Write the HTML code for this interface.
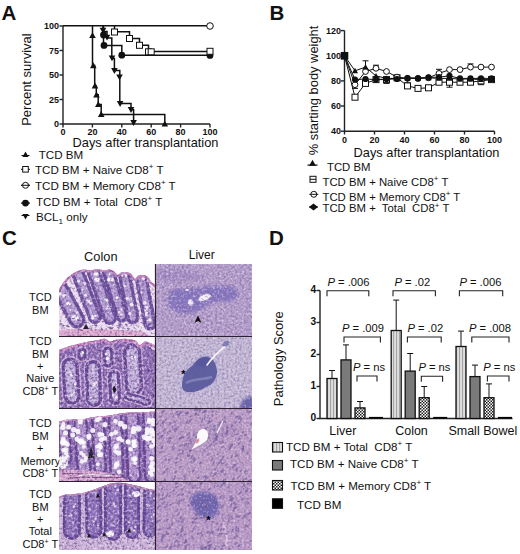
<!DOCTYPE html>
<html><head><meta charset="utf-8"><style>
html,body{margin:0;padding:0;background:#fff;}
svg{display:block;font-family:"Liberation Sans", sans-serif;}
</style></head><body>
<svg width="520" height="554" viewBox="0 0 520 554" fill="#111">
<defs>
<pattern id="pl" width="3" height="10" patternUnits="userSpaceOnUse"><rect width="3" height="10" fill="#dedede"/><rect width="1.1" height="10" fill="#a4a4a4"/></pattern>
<pattern id="pc" width="3" height="3" patternUnits="userSpaceOnUse"><rect width="3" height="3" fill="#fff"/><rect width="1.5" height="1.5" fill="#222"/><rect x="1.5" y="1.5" width="1.5" height="1.5" fill="#222"/></pattern>
<clipPath id="cc0"><rect x="59" y="264" width="96.5" height="72.5"/></clipPath>
<clipPath id="cl0"><rect x="155.5" y="264" width="96.5" height="72.5"/></clipPath>
<clipPath id="cc1"><rect x="59" y="336.5" width="96.5" height="72.0"/></clipPath>
<clipPath id="cl1"><rect x="155.5" y="336.5" width="96.5" height="72.0"/></clipPath>
<clipPath id="cc2"><rect x="59" y="408.5" width="96.5" height="73.0"/></clipPath>
<clipPath id="cl2"><rect x="155.5" y="408.5" width="96.5" height="73.0"/></clipPath>
<clipPath id="cc3"><rect x="59" y="481.5" width="96.5" height="68.5"/></clipPath>
<clipPath id="cl3"><rect x="155.5" y="481.5" width="96.5" height="68.5"/></clipPath>
<filter id="bl1" x="-20%" y="-20%" width="140%" height="140%"><feGaussianBlur stdDeviation="0.7"/></filter>
<filter id="bl2" x="-20%" y="-20%" width="140%" height="140%"><feGaussianBlur stdDeviation="1.6"/></filter>
<filter id="bl3" x="-30%" y="-30%" width="160%" height="160%"><feGaussianBlur stdDeviation="2.5"/></filter>
<clipPath id="ct0"><path d="M57.0,292.0 C57.3,291.6 58.2,290.7 59.0,289.5 C59.8,288.3 60.8,286.4 62.0,284.7 C63.2,282.9 64.7,280.5 66.0,279.0 C67.3,277.5 68.5,276.8 70.0,275.7 C71.5,274.6 73.3,273.2 75.0,272.3 C76.7,271.4 78.3,270.7 80.0,270.2 C81.7,269.7 83.3,269.4 85.0,269.5 C86.7,269.6 88.3,270.5 90.0,270.5 C91.7,270.5 93.3,269.7 95.0,269.5 C96.7,269.3 98.3,269.4 100.0,269.5 C101.7,269.6 103.3,270.2 105.0,270.2 C106.7,270.2 108.3,269.1 110.0,269.5 C111.7,269.9 113.7,271.4 115.0,272.3 C116.3,273.2 116.8,275.0 118.0,275.0 C119.2,275.0 120.0,272.6 122.0,272.3 C124.0,272.0 127.8,272.0 130.0,273.0 C132.2,274.0 133.7,278.1 135.0,278.5 C136.3,278.9 136.7,276.3 138.0,275.7 C139.3,275.1 141.3,274.8 143.0,275.0 C144.7,275.2 146.5,275.7 148.0,277.0 C149.5,278.3 150.5,281.1 152.0,282.6 C153.5,284.1 156.2,285.4 157.0,286.0 L157,338.5 L57,338.5 Z"/></clipPath>
<filter id="ndc0" x="0" y="0" width="100%" height="100%" color-interpolation-filters="sRGB">
<feTurbulence type="fractalNoise" baseFrequency="0.4" numOctaves="3" seed="3"/>
<feColorMatrix type="matrix" values="0 0 0 0 0.314 0 0 0 0 0.196 0 0 0 0 0.490 1.7 0 0 0 -0.850"/><feGaussianBlur stdDeviation="0.45"/>
</filter>
<filter id="nlc0" x="0" y="0" width="100%" height="100%" color-interpolation-filters="sRGB">
<feTurbulence type="fractalNoise" baseFrequency="0.4" numOctaves="3" seed="3"/>
<feColorMatrix type="matrix" values="0 0 0 0 0.973 0 0 0 0 0.941 0 0 0 0 0.980 -1.7 0 0 0 0.782"/><feGaussianBlur stdDeviation="0.45"/>
</filter>
<clipPath id="ct1"><path d="M57.0,350.5 C57.3,350.4 56.8,350.6 59.0,349.8 C61.2,349.1 66.5,347.1 70.0,346.0 C73.5,344.9 76.7,344.1 80.0,343.4 C83.3,342.6 86.7,342.1 90.0,341.5 C93.3,340.9 97.5,340.1 100.0,339.7 C102.5,339.2 103.3,338.5 105.0,338.8 C106.7,339.1 108.3,341.3 110.0,341.5 C111.7,341.7 112.5,340.4 115.0,340.0 C117.5,339.6 121.7,338.7 125.0,338.8 C128.3,338.9 132.5,339.6 135.0,340.6 C137.5,341.6 138.3,344.9 140.0,345.0 C141.7,345.1 143.3,341.8 145.0,341.5 C146.7,341.2 148.0,342.2 150.0,343.0 C152.0,343.8 155.8,345.5 157.0,346.0 L157,410.5 L57,410.5 Z"/></clipPath>
<filter id="ndc1" x="0" y="0" width="100%" height="100%" color-interpolation-filters="sRGB">
<feTurbulence type="fractalNoise" baseFrequency="0.4" numOctaves="3" seed="10"/>
<feColorMatrix type="matrix" values="0 0 0 0 0.314 0 0 0 0 0.196 0 0 0 0 0.490 2.2 0 0 0 -1.100"/><feGaussianBlur stdDeviation="0.45"/>
</filter>
<filter id="nlc1" x="0" y="0" width="100%" height="100%" color-interpolation-filters="sRGB">
<feTurbulence type="fractalNoise" baseFrequency="0.4" numOctaves="3" seed="10"/>
<feColorMatrix type="matrix" values="0 0 0 0 0.973 0 0 0 0 0.941 0 0 0 0 0.980 -2.2 0 0 0 1.012"/><feGaussianBlur stdDeviation="0.45"/>
</filter>
<clipPath id="ct2"><path d="M57.0,422.0 C57.3,422.0 57.7,422.1 59.0,421.8 C60.3,421.5 62.3,420.4 65.0,420.0 C67.7,419.6 71.7,419.6 75.0,419.4 C78.3,419.2 82.5,419.3 85.0,419.0 C87.5,418.7 87.5,418.1 90.0,417.6 C92.5,417.2 96.7,416.7 100.0,416.3 C103.3,415.9 106.7,415.9 110.0,415.4 C113.3,414.9 116.7,414.0 120.0,413.5 C123.3,413.0 126.7,412.9 130.0,412.6 C133.3,412.4 135.5,412.1 140.0,412.0 C144.5,411.9 154.2,411.8 157.0,411.7 L157,483.5 L57,483.5 Z"/></clipPath>
<filter id="ndc2" x="0" y="0" width="100%" height="100%" color-interpolation-filters="sRGB">
<feTurbulence type="fractalNoise" baseFrequency="0.4" numOctaves="3" seed="17"/>
<feColorMatrix type="matrix" values="0 0 0 0 0.314 0 0 0 0 0.196 0 0 0 0 0.490 2.0 0 0 0 -1.000"/><feGaussianBlur stdDeviation="0.45"/>
</filter>
<filter id="nlc2" x="0" y="0" width="100%" height="100%" color-interpolation-filters="sRGB">
<feTurbulence type="fractalNoise" baseFrequency="0.4" numOctaves="3" seed="17"/>
<feColorMatrix type="matrix" values="0 0 0 0 0.973 0 0 0 0 0.941 0 0 0 0 0.980 -2.0 0 0 0 0.920"/><feGaussianBlur stdDeviation="0.45"/>
</filter>
<clipPath id="ct3"><path d="M57.0,497.0 C57.3,496.9 57.7,497.1 59.0,496.7 C60.3,496.3 62.3,495.2 65.0,494.8 C67.7,494.4 71.7,494.4 75.0,494.0 C78.3,493.6 81.7,493.2 85.0,492.4 C88.3,491.6 91.7,490.4 95.0,489.3 C98.3,488.2 102.5,486.5 105.0,485.6 C107.5,484.7 107.5,484.3 110.0,483.8 C112.5,483.3 116.7,482.7 120.0,482.8 C123.3,482.9 126.7,483.7 130.0,484.3 C133.3,484.9 136.7,485.7 140.0,486.5 C143.3,487.3 147.2,488.7 150.0,489.3 C152.8,489.9 155.8,489.9 157.0,490.0 L157,552 L57,552 Z"/></clipPath>
<filter id="ndc3" x="0" y="0" width="100%" height="100%" color-interpolation-filters="sRGB">
<feTurbulence type="fractalNoise" baseFrequency="0.4" numOctaves="3" seed="24"/>
<feColorMatrix type="matrix" values="0 0 0 0 0.314 0 0 0 0 0.196 0 0 0 0 0.490 2.0 0 0 0 -1.000"/><feGaussianBlur stdDeviation="0.45"/>
</filter>
<filter id="nlc3" x="0" y="0" width="100%" height="100%" color-interpolation-filters="sRGB">
<feTurbulence type="fractalNoise" baseFrequency="0.4" numOctaves="3" seed="24"/>
<feColorMatrix type="matrix" values="0 0 0 0 0.973 0 0 0 0 0.941 0 0 0 0 0.980 -2.0 0 0 0 0.920"/><feGaussianBlur stdDeviation="0.45"/>
</filter>
<filter id="ndl0" x="0" y="0" width="100%" height="100%" color-interpolation-filters="sRGB">
<feTurbulence type="fractalNoise" baseFrequency="0.45" numOctaves="2" seed="31"/>
<feColorMatrix type="matrix" values="0 0 0 0 0.478 0 0 0 0 0.361 0 0 0 0 0.620 1.9 0 0 0 -0.950"/><feGaussianBlur stdDeviation="0.5"/>
</filter>
<filter id="nll0" x="0" y="0" width="100%" height="100%" color-interpolation-filters="sRGB">
<feTurbulence type="fractalNoise" baseFrequency="0.45" numOctaves="2" seed="31"/>
<feColorMatrix type="matrix" values="0 0 0 0 0.961 0 0 0 0 0.922 0 0 0 0 0.973 -1.9 0 0 0 0.874"/><feGaussianBlur stdDeviation="0.5"/>
</filter>
<filter id="ndl1" x="0" y="0" width="100%" height="100%" color-interpolation-filters="sRGB">
<feTurbulence type="fractalNoise" baseFrequency="0.45" numOctaves="2" seed="36"/>
<feColorMatrix type="matrix" values="0 0 0 0 0.478 0 0 0 0 0.361 0 0 0 0 0.620 1.7 0 0 0 -0.850"/><feGaussianBlur stdDeviation="0.5"/>
</filter>
<filter id="nll1" x="0" y="0" width="100%" height="100%" color-interpolation-filters="sRGB">
<feTurbulence type="fractalNoise" baseFrequency="0.45" numOctaves="2" seed="36"/>
<feColorMatrix type="matrix" values="0 0 0 0 0.961 0 0 0 0 0.922 0 0 0 0 0.973 -1.7 0 0 0 0.782"/><feGaussianBlur stdDeviation="0.5"/>
</filter>
<filter id="ndl2" x="0" y="0" width="100%" height="100%" color-interpolation-filters="sRGB">
<feTurbulence type="fractalNoise" baseFrequency="0.45" numOctaves="2" seed="41"/>
<feColorMatrix type="matrix" values="0 0 0 0 0.478 0 0 0 0 0.361 0 0 0 0 0.620 1.5 0 0 0 -0.750"/><feGaussianBlur stdDeviation="0.5"/>
</filter>
<filter id="nll2" x="0" y="0" width="100%" height="100%" color-interpolation-filters="sRGB">
<feTurbulence type="fractalNoise" baseFrequency="0.45" numOctaves="2" seed="41"/>
<feColorMatrix type="matrix" values="0 0 0 0 0.961 0 0 0 0 0.922 0 0 0 0 0.973 -1.5 0 0 0 0.690"/><feGaussianBlur stdDeviation="0.5"/>
</filter>
<filter id="ndl3" x="0" y="0" width="100%" height="100%" color-interpolation-filters="sRGB">
<feTurbulence type="fractalNoise" baseFrequency="0.45" numOctaves="2" seed="46"/>
<feColorMatrix type="matrix" values="0 0 0 0 0.478 0 0 0 0 0.361 0 0 0 0 0.620 1.5 0 0 0 -0.750"/><feGaussianBlur stdDeviation="0.5"/>
</filter>
<filter id="nll3" x="0" y="0" width="100%" height="100%" color-interpolation-filters="sRGB">
<feTurbulence type="fractalNoise" baseFrequency="0.45" numOctaves="2" seed="46"/>
<feColorMatrix type="matrix" values="0 0 0 0 0.961 0 0 0 0 0.922 0 0 0 0 0.973 -1.5 0 0 0 0.690"/><feGaussianBlur stdDeviation="0.5"/>
</filter></defs>
<text x="1.5" y="19.8" font-size="20.5" font-weight="bold">A</text>
<text x="269.5" y="19.6" font-size="20.5" font-weight="bold">B</text>
<text x="2" y="245" font-size="20.5" font-weight="bold">C</text>
<text x="269" y="245" font-size="20.5" font-weight="bold">D</text>
<g stroke="#222" stroke-width="1.4" fill="none">
<path d="M63,26.0 V124 H210"/>
<path d="M59.5,124.0 H63"/>
<path d="M59.5,99.5 H63"/>
<path d="M59.5,75.0 H63"/>
<path d="M59.5,50.5 H63"/>
<path d="M59.5,26.0 H63"/>
<path d="M63.0,124 V127.5"/>
<path d="M92.4,124 V127.5"/>
<path d="M121.8,124 V127.5"/>
<path d="M151.2,124 V127.5"/>
<path d="M180.6,124 V127.5"/>
<path d="M210.0,124 V127.5"/>
</g>
<text x="59" y="127.2" font-size="9" font-weight="bold" text-anchor="end">0</text>
<text x="59" y="102.7" font-size="9" font-weight="bold" text-anchor="end">25</text>
<text x="59" y="78.2" font-size="9" font-weight="bold" text-anchor="end">50</text>
<text x="59" y="53.7" font-size="9" font-weight="bold" text-anchor="end">75</text>
<text x="59" y="29.2" font-size="9" font-weight="bold" text-anchor="end">100</text>
<text x="63.0" y="135.3" font-size="9" font-weight="bold" text-anchor="middle">0</text>
<text x="92.4" y="135.3" font-size="9" font-weight="bold" text-anchor="middle">20</text>
<text x="121.8" y="135.3" font-size="9" font-weight="bold" text-anchor="middle">40</text>
<text x="151.2" y="135.3" font-size="9" font-weight="bold" text-anchor="middle">60</text>
<text x="180.6" y="135.3" font-size="9" font-weight="bold" text-anchor="middle">80</text>
<text x="210.0" y="135.3" font-size="9" font-weight="bold" text-anchor="middle">100</text>
<text x="72.6" y="147.4" font-size="12.8">Days after transplantation</text>
<text transform="translate(30.7,79.6) rotate(-90)" font-size="13" text-anchor="middle">Percent survival</text>
<g stroke="#111" stroke-width="1.5" fill="none">
<path d="M63,25.8 H210"/>
<path d="M92.5,25.8 V65.6 H94.7 V85.9 H96.3 V94.8 H98.2 V104.5 H101.2 V114.4 H164.8 V124"/>
<path d="M103.5,25.8 V45.4 H121.8 V55.2 H210"/>
<path d="M103,25.8 V31.5 H107 V38 H111.8 V58.6 H114.4 V70.6 H119.8 V103.6 H131 V109.7 H133.6 V124"/>
<path d="M114.5,25.8 V31.8 H129.5 V38.5 H139.5 V45.3 H148.5 V51.5 H210"/>
</g>
<path d="M92.5,32.2 L95.8,38.1 L89.2,38.1Z" fill="#111"/>
<path d="M93.3,62.3 L96.6,68.2 L90.0,68.2Z" fill="#111"/>
<path d="M95.0,82.6 L98.3,88.5 L91.7,88.5Z" fill="#111"/>
<path d="M96.5,91.5 L99.8,97.4 L93.2,97.4Z" fill="#111"/>
<path d="M98.3,101.2 L101.6,107.1 L95.0,107.1Z" fill="#111"/>
<path d="M101.2,111.1 L104.5,117.0 L97.9,117.0Z" fill="#111"/>
<path d="M164.8,120.7 L168.1,126.6 L161.5,126.6Z" fill="#111"/>
<path d="M103.0,33.7 L106.3,27.8 L99.7,27.8Z" fill="#111"/>
<path d="M107.0,40.6 L110.3,34.7 L103.7,34.7Z" fill="#111"/>
<path d="M112.0,61.3 L115.3,55.4 L108.7,55.4Z" fill="#111"/>
<path d="M114.4,73.9 L117.7,68.0 L111.1,68.0Z" fill="#111"/>
<path d="M119.5,80.3 L122.8,74.4 L116.2,74.4Z" fill="#111"/>
<path d="M120.1,106.9 L123.4,101.0 L116.8,101.0Z" fill="#111"/>
<path d="M131.0,113.0 L134.3,107.1 L127.7,107.1Z" fill="#111"/>
<path d="M133.6,126.0 L136.9,120.1 L130.3,120.1Z" fill="#111"/>
<circle cx="103.5" cy="35.0" r="3.4" fill="#111"/>
<circle cx="104.0" cy="45.4" r="3.4" fill="#111"/>
<circle cx="121.8" cy="55.2" r="3.4" fill="#111"/>
<circle cx="210.0" cy="55.4" r="3.4" fill="#111"/>
<rect x="111.5" y="29.0" width="6.0" height="6.0" fill="#fff" stroke="#111" stroke-width="1"/>
<rect x="126.5" y="35.5" width="6.0" height="6.0" fill="#fff" stroke="#111" stroke-width="1"/>
<rect x="136.5" y="42.3" width="6.0" height="6.0" fill="#fff" stroke="#111" stroke-width="1"/>
<rect x="145.5" y="48.8" width="6.0" height="6.0" fill="#fff" stroke="#111" stroke-width="1"/>
<rect x="148.2" y="48.8" width="6.0" height="6.0" fill="#fff" stroke="#111" stroke-width="1"/>
<rect x="207.0" y="48.3" width="6.0" height="6.0" fill="#fff" stroke="#111" stroke-width="1"/>
<circle cx="210.0" cy="26.0" r="3.3" fill="#fff" stroke="#111" stroke-width="1"/>
<text x="38.7" y="159" font-size="11.6" xml:space="preserve">TCD BM</text>
<path d="M25.5,151.5 L28.5,156.9 L22.5,156.9Z" fill="#111"/>
<path d="M21.5,155.5 H29.5" stroke="#111" stroke-width="1"/>
<text x="35" y="173.8" font-size="11.6" xml:space="preserve">TCD BM + Naive CD8<tspan font-size="8" dy="-4.5">+</tspan><tspan dy="4.5"> T</tspan></text>
<path d="M21.0,169.3 H30.0" stroke="#111" stroke-width="1"/>
<rect x="22.7" y="166.5" width="5.6" height="5.6" fill="#fff" stroke="#111" stroke-width="1"/>
<text x="35" y="189.8" font-size="11.6" xml:space="preserve">TCD BM + Memory CD8<tspan font-size="8" dy="-4.5">+</tspan><tspan dy="4.5"> T</tspan></text>
<path d="M21.0,185.3 H30.0" stroke="#111" stroke-width="1"/>
<circle cx="25.5" cy="185.3" r="3" fill="#fff" stroke="#111" stroke-width="1"/>
<path d="M21.0,185.3 H30.0" stroke="#111" stroke-width="1"/>
<text x="36" y="205.6" font-size="11.6" xml:space="preserve">TCD BM + Total  CD8<tspan font-size="8" dy="-4.5">+</tspan><tspan dy="4.5"> T</tspan></text>
<path d="M21.0,203.1 H30.0" stroke="#111" stroke-width="1.2"/>
<circle cx="25.5" cy="203.1" r="3.4" fill="#111"/>
<text x="36" y="221" font-size="11.6" xml:space="preserve">BCL<tspan font-size="8" dy="3">1</tspan><tspan dy="-3"> only</tspan></text>
<path d="M25.5,219.5 L28.5,214.1 L22.5,214.1Z" fill="#111"/>
<path d="M21.5,215.5 H29.5" stroke="#111" stroke-width="1"/>
<g stroke="#222" stroke-width="1.4" fill="none">
<path d="M344.5,30.6 V131.2 H494.5"/>
<path d="M341,131.2 H344.5"/>
<path d="M341,106.0 H344.5"/>
<path d="M341,80.9 H344.5"/>
<path d="M341,55.7 H344.5"/>
<path d="M341,30.6 H344.5"/>
<path d="M344.5,131.2 V134.5"/>
<path d="M374.5,131.2 V134.5"/>
<path d="M404.5,131.2 V134.5"/>
<path d="M434.5,131.2 V134.5"/>
<path d="M464.5,131.2 V134.5"/>
<path d="M494.5,131.2 V134.5"/>
</g>
<text x="341" y="134.4" font-size="9" font-weight="bold" text-anchor="end">40</text>
<text x="341" y="109.2" font-size="9" font-weight="bold" text-anchor="end">60</text>
<text x="341" y="84.1" font-size="9" font-weight="bold" text-anchor="end">80</text>
<text x="341" y="58.9" font-size="9" font-weight="bold" text-anchor="end">100</text>
<text x="341" y="33.8" font-size="9" font-weight="bold" text-anchor="end">120</text>
<text x="344.5" y="142.5" font-size="9" font-weight="bold" text-anchor="middle">0</text>
<text x="374.5" y="142.5" font-size="9" font-weight="bold" text-anchor="middle">20</text>
<text x="404.5" y="142.5" font-size="9" font-weight="bold" text-anchor="middle">40</text>
<text x="434.5" y="142.5" font-size="9" font-weight="bold" text-anchor="middle">60</text>
<text x="464.5" y="142.5" font-size="9" font-weight="bold" text-anchor="middle">80</text>
<text x="494.5" y="142.5" font-size="9" font-weight="bold" text-anchor="middle">100</text>
<text x="353.6" y="156.8" font-size="12.8">Days after transplantation</text>
<text transform="translate(318.4,90.5) rotate(-90)" font-size="12.9" text-anchor="middle">% starting body weight</text>
<g stroke="#111" stroke-width="1" fill="none">
<path d="M365.5,67.1 V60.8 M362.5,60.8 H368.5"/>
<path d="M386.5,79.0 V83.4 M383.5,83.4 H389.5"/>
<path d="M439.0,73.4 V69.3 M436.0,69.3 H442.0"/>
<path d="M449.5,82.2 V87.2 M446.5,87.2 H452.5"/>
<path d="M481.0,80.9 V84.7 M478.0,84.7 H484.0"/>
<path d="M407.5,79.6 V82.8 M404.5,82.8 H410.5"/>
<path d="M355.0,84.7 V88.4 M352.0,88.4 H358.0"/>
<path d="M470.5,67.1 V63.9 M467.5,63.9 H473.5"/>
<path d="M376.0,68.3 V65.2 M373.0,65.2 H379.0"/>
<polyline points="344.5,55.7 355.0,70.8 365.5,67.1 376.0,75.9 386.5,78.4 397.0,78.4 407.5,78.0 418.0,78.0 428.5,77.8 439.0,78.4 449.5,78.4 460.0,79.0 470.5,79.0 481.0,79.6 491.5,79.6"/>
<polyline points="344.5,55.7 355.0,97.2 365.5,83.4 376.0,79.6 386.5,79.6 397.0,77.8 407.5,85.9 418.0,88.4 428.5,87.8 439.0,82.2 449.5,82.2 460.0,82.2 470.5,82.2 481.0,80.9 491.5,79.6"/>
<polyline points="344.5,55.7 355.0,84.7 365.5,71.5 376.0,68.3 386.5,71.5 397.0,77.1 407.5,78.4 418.0,78.4 428.5,77.8 439.0,73.4 449.5,69.6 460.0,69.6 470.5,67.1 481.0,67.1 491.5,67.1"/>
<polyline points="344.5,55.7 355.0,79.6 365.5,79.0 376.0,79.6 386.5,79.0 397.0,79.0 407.5,78.0 418.0,78.4 428.5,77.4 439.0,77.1 449.5,75.9 460.0,78.4 470.5,78.4 481.0,78.4 491.5,78.4"/>
</g>
<rect x="341.5" y="52.7" width="6.0" height="6.0" fill="#fff" stroke="#111" stroke-width="1"/>
<rect x="352.0" y="94.2" width="6.0" height="6.0" fill="#fff" stroke="#111" stroke-width="1"/>
<rect x="362.5" y="80.4" width="6.0" height="6.0" fill="#fff" stroke="#111" stroke-width="1"/>
<rect x="373.0" y="76.6" width="6.0" height="6.0" fill="#fff" stroke="#111" stroke-width="1"/>
<rect x="383.5" y="76.6" width="6.0" height="6.0" fill="#fff" stroke="#111" stroke-width="1"/>
<rect x="394.0" y="74.8" width="6.0" height="6.0" fill="#fff" stroke="#111" stroke-width="1"/>
<rect x="404.5" y="82.9" width="6.0" height="6.0" fill="#fff" stroke="#111" stroke-width="1"/>
<rect x="415.0" y="85.4" width="6.0" height="6.0" fill="#fff" stroke="#111" stroke-width="1"/>
<rect x="425.5" y="84.8" width="6.0" height="6.0" fill="#fff" stroke="#111" stroke-width="1"/>
<rect x="436.0" y="79.2" width="6.0" height="6.0" fill="#fff" stroke="#111" stroke-width="1"/>
<rect x="446.5" y="79.2" width="6.0" height="6.0" fill="#fff" stroke="#111" stroke-width="1"/>
<rect x="457.0" y="79.2" width="6.0" height="6.0" fill="#fff" stroke="#111" stroke-width="1"/>
<rect x="467.5" y="79.2" width="6.0" height="6.0" fill="#fff" stroke="#111" stroke-width="1"/>
<rect x="478.0" y="77.9" width="6.0" height="6.0" fill="#fff" stroke="#111" stroke-width="1"/>
<rect x="488.5" y="76.6" width="6.0" height="6.0" fill="#fff" stroke="#111" stroke-width="1"/>
<circle cx="344.5" cy="55.7" r="2.9" fill="#fff" stroke="#111" stroke-width="1"/>
<circle cx="355.0" cy="84.7" r="2.9" fill="#fff" stroke="#111" stroke-width="1"/>
<circle cx="365.5" cy="71.5" r="2.9" fill="#fff" stroke="#111" stroke-width="1"/>
<circle cx="376.0" cy="68.3" r="2.9" fill="#fff" stroke="#111" stroke-width="1"/>
<circle cx="386.5" cy="71.5" r="2.9" fill="#fff" stroke="#111" stroke-width="1"/>
<circle cx="397.0" cy="77.1" r="2.9" fill="#fff" stroke="#111" stroke-width="1"/>
<circle cx="407.5" cy="78.4" r="2.9" fill="#fff" stroke="#111" stroke-width="1"/>
<circle cx="418.0" cy="78.4" r="2.9" fill="#fff" stroke="#111" stroke-width="1"/>
<circle cx="428.5" cy="77.8" r="2.9" fill="#fff" stroke="#111" stroke-width="1"/>
<circle cx="439.0" cy="73.4" r="2.9" fill="#fff" stroke="#111" stroke-width="1"/>
<circle cx="449.5" cy="69.6" r="2.9" fill="#fff" stroke="#111" stroke-width="1"/>
<circle cx="460.0" cy="69.6" r="2.9" fill="#fff" stroke="#111" stroke-width="1"/>
<circle cx="470.5" cy="67.1" r="2.9" fill="#fff" stroke="#111" stroke-width="1"/>
<circle cx="481.0" cy="67.1" r="2.9" fill="#fff" stroke="#111" stroke-width="1"/>
<circle cx="491.5" cy="67.1" r="2.9" fill="#fff" stroke="#111" stroke-width="1"/>
<circle cx="344.5" cy="55.7" r="3.1" fill="#111"/>
<circle cx="355.0" cy="79.6" r="3.1" fill="#111"/>
<circle cx="365.5" cy="79.0" r="3.1" fill="#111"/>
<circle cx="376.0" cy="79.6" r="3.1" fill="#111"/>
<circle cx="386.5" cy="79.0" r="3.1" fill="#111"/>
<circle cx="397.0" cy="79.0" r="3.1" fill="#111"/>
<circle cx="407.5" cy="78.0" r="3.1" fill="#111"/>
<circle cx="418.0" cy="78.4" r="3.1" fill="#111"/>
<circle cx="428.5" cy="77.4" r="3.1" fill="#111"/>
<circle cx="439.0" cy="77.1" r="3.1" fill="#111"/>
<circle cx="449.5" cy="75.9" r="3.1" fill="#111"/>
<circle cx="460.0" cy="78.4" r="3.1" fill="#111"/>
<circle cx="470.5" cy="78.4" r="3.1" fill="#111"/>
<circle cx="481.0" cy="78.4" r="3.1" fill="#111"/>
<circle cx="491.5" cy="78.4" r="3.1" fill="#111"/>
<path d="M344.5,52.7 L347.5,58.1 L341.5,58.1Z" fill="#111"/>
<path d="M355.0,67.8 L358.0,73.2 L352.0,73.2Z" fill="#111"/>
<path d="M365.5,64.1 L368.5,69.5 L362.5,69.5Z" fill="#111"/>
<path d="M376.0,72.9 L379.0,78.3 L373.0,78.3Z" fill="#111"/>
<path d="M386.5,75.4 L389.5,80.8 L383.5,80.8Z" fill="#111"/>
<path d="M397.0,75.4 L400.0,80.8 L394.0,80.8Z" fill="#111"/>
<path d="M407.5,75.0 L410.5,80.4 L404.5,80.4Z" fill="#111"/>
<path d="M418.0,75.0 L421.0,80.4 L415.0,80.4Z" fill="#111"/>
<path d="M428.5,74.8 L431.5,80.2 L425.5,80.2Z" fill="#111"/>
<path d="M439.0,75.4 L442.0,80.8 L436.0,80.8Z" fill="#111"/>
<path d="M449.5,75.4 L452.5,80.8 L446.5,80.8Z" fill="#111"/>
<path d="M460.0,76.0 L463.0,81.4 L457.0,81.4Z" fill="#111"/>
<path d="M470.5,76.0 L473.5,81.4 L467.5,81.4Z" fill="#111"/>
<path d="M481.0,76.6 L484.0,82.0 L478.0,82.0Z" fill="#111"/>
<path d="M491.5,76.6 L494.5,82.0 L488.5,82.0Z" fill="#111"/>
<rect x="340.7" y="51.94999999999999" width="7.6" height="7.6" fill="#111"/>
<text x="327" y="170.8" font-size="11.35" xml:space="preserve">TCD BM</text>
<path d="M312.5,159.7 L315.9,165.8 L309.1,165.8Z" fill="#111"/>
<path d="M307.5,165.10000000000002 H317.5" stroke="#111" stroke-width="1.2"/>
<text x="322.5" y="185.8" font-size="11.35" xml:space="preserve">TCD BM + Naive CD8<tspan font-size="8" dy="-4.5">+</tspan><tspan dy="4.5"> T</tspan></text>
<rect x="310.0" y="176.3" width="6.0" height="6.0" fill="#fff" stroke="#111" stroke-width="1"/>
<path d="M310,179.3 H316" stroke="#111" stroke-width="1"/>
<text x="322.5" y="200.8" font-size="11.35" xml:space="preserve">TCD BM + Memory CD8<tspan font-size="8" dy="-4.5">+</tspan><tspan dy="4.5"> T</tspan></text>
<circle cx="313.8" cy="194.3" r="3" fill="#fff" stroke="#111" stroke-width="1"/>
<path d="M309.3,194.3 H318.3" stroke="#111" stroke-width="1"/>
<text x="322.5" y="212" font-size="11.35" xml:space="preserve">TCD BM +  Total  CD8<tspan font-size="8" dy="-4.5">+</tspan><tspan dy="4.5"> T</tspan></text>
<path d="M309.0,207.0 H318.0" stroke="#111" stroke-width="1"/>
<path d="M309.0,207.0 L313.5,203.5 L318.0,207.0 L313.5,210.5Z" fill="#111"/>
<text x="100.8" y="261" font-size="12.8" text-anchor="middle">Colon</text>
<text x="201.8" y="258.8" font-size="12" text-anchor="middle">Liver</text>
<text x="40.3" y="301.2" font-size="11" text-anchor="middle">TCD</text>
<text x="40.3" y="313.6" font-size="11" text-anchor="middle">BM</text>
<text x="40.3" y="345.1" font-size="11" text-anchor="middle">TCD</text>
<text x="40.3" y="357.5" font-size="11" text-anchor="middle">BM</text>
<text x="40.3" y="369.9" font-size="11" text-anchor="middle">+</text>
<text x="40.3" y="382.3" font-size="11" text-anchor="middle">Naive</text>
<text x="40.3" y="394.7" font-size="11" text-anchor="middle">CD8<tspan font-size="7" dy="-4">+</tspan><tspan dy="4"> T</tspan></text>
<text x="40.3" y="427.4" font-size="11" text-anchor="middle">TCD</text>
<text x="40.3" y="439.8" font-size="11" text-anchor="middle">BM</text>
<text x="40.3" y="452.2" font-size="11" text-anchor="middle">+</text>
<text x="40.3" y="464.6" font-size="11" text-anchor="middle">Memory</text>
<text x="40.3" y="477.0" font-size="11" text-anchor="middle">CD8<tspan font-size="7" dy="-4">+</tspan><tspan dy="4"> T</tspan></text>
<text x="40.3" y="498.1" font-size="11" text-anchor="middle">TCD</text>
<text x="40.3" y="510.5" font-size="11" text-anchor="middle">BM</text>
<text x="40.3" y="522.9" font-size="11" text-anchor="middle">+</text>
<text x="40.3" y="535.3" font-size="11" text-anchor="middle">Total</text>
<text x="40.3" y="547.7" font-size="11" text-anchor="middle">CD8<tspan font-size="7" dy="-4">+</tspan><tspan dy="4"> T</tspan></text>
<g clip-path="url(#cc0)"><rect x="59" y="264" width="96.5" height="72.5" fill="#fdfcfe"/>
<g clip-path="url(#ct0)">
<rect x="59" y="264" width="96.5" height="72.5" fill="rgb(236,222,240)"/>
<g filter="url(#bl1)">
<rect x="59" y="316" width="96.5" height="22" fill="rgb(236,222,240)"/>
<path d="M57,330 C80,328 110,329 140,331 C146,332 150,336 152,340 L57,340Z" fill="rgb(220,168,206)"/>
<path d="M61.0,290.0 L77.0,320.0" stroke="rgb(112,82,158)" stroke-width="17" stroke-linecap="round"/>
<path d="M61.0,290.0 L77.0,320.0" stroke="rgb(178,154,208)" stroke-width="10.2" stroke-linecap="round"/>
<circle cx="67.8" cy="303.8" r="1.8" fill="#fbf8fd" opacity="0.85"/>
<circle cx="68.4" cy="304.0" r="1.5" fill="#fbf8fd" opacity="0.85"/>
<circle cx="63.9" cy="295.6" r="1.6" fill="#fbf8fd" opacity="0.85"/>
<circle cx="76.6" cy="312.2" r="1.3" fill="#fbf8fd" opacity="0.85"/>
<circle cx="60.2" cy="293.9" r="1.6" fill="#fbf8fd" opacity="0.85"/>
<circle cx="58.2" cy="293.1" r="1.9" fill="#fbf8fd" opacity="0.85"/>
<circle cx="70.6" cy="310.1" r="1.1" fill="#fbf8fd" opacity="0.85"/>
<circle cx="61.0" cy="290.6" r="1.1" fill="#fbf8fd" opacity="0.85"/>
<circle cx="65.9" cy="294.7" r="1.0" fill="#fbf8fd" opacity="0.85"/>
<circle cx="68.9" cy="303.7" r="1.8" fill="#fbf8fd" opacity="0.85"/>
<path d="M77.0,271.0 L95.0,317.0" stroke="rgb(112,82,158)" stroke-width="14" stroke-linecap="round"/>
<path d="M77.0,271.0 L95.0,317.0" stroke="rgb(178,154,208)" stroke-width="7.2" stroke-linecap="round"/>
<circle cx="85.6" cy="295.2" r="1.4" fill="#fbf8fd" opacity="0.85"/>
<circle cx="89.2" cy="301.4" r="1.3" fill="#fbf8fd" opacity="0.85"/>
<circle cx="92.3" cy="317.9" r="1.8" fill="#fbf8fd" opacity="0.85"/>
<circle cx="90.7" cy="303.2" r="1.2" fill="#fbf8fd" opacity="0.85"/>
<circle cx="84.5" cy="283.4" r="1.7" fill="#fbf8fd" opacity="0.85"/>
<circle cx="82.3" cy="290.1" r="1.3" fill="#fbf8fd" opacity="0.85"/>
<circle cx="92.4" cy="315.8" r="1.0" fill="#fbf8fd" opacity="0.85"/>
<circle cx="78.6" cy="281.5" r="1.4" fill="#fbf8fd" opacity="0.85"/>
<circle cx="95.2" cy="315.9" r="1.1" fill="#fbf8fd" opacity="0.85"/>
<circle cx="86.8" cy="300.5" r="1.2" fill="#fbf8fd" opacity="0.85"/>
<path d="M93.0,270.0 L110.0,318.0" stroke="rgb(112,82,158)" stroke-width="14" stroke-linecap="round"/>
<path d="M93.0,270.0 L110.0,318.0" stroke="rgb(178,154,208)" stroke-width="7.2" stroke-linecap="round"/>
<circle cx="95.4" cy="273.9" r="1.9" fill="#fbf8fd" opacity="0.85"/>
<circle cx="108.0" cy="305.7" r="1.2" fill="#fbf8fd" opacity="0.85"/>
<circle cx="97.1" cy="274.0" r="1.7" fill="#fbf8fd" opacity="0.85"/>
<circle cx="95.7" cy="278.6" r="1.4" fill="#fbf8fd" opacity="0.85"/>
<circle cx="95.0" cy="279.6" r="1.1" fill="#fbf8fd" opacity="0.85"/>
<circle cx="106.0" cy="300.2" r="1.4" fill="#fbf8fd" opacity="0.85"/>
<circle cx="97.9" cy="279.8" r="1.9" fill="#fbf8fd" opacity="0.85"/>
<circle cx="107.7" cy="308.2" r="1.8" fill="#fbf8fd" opacity="0.85"/>
<circle cx="97.2" cy="279.9" r="1.8" fill="#fbf8fd" opacity="0.85"/>
<circle cx="106.1" cy="300.0" r="1.9" fill="#fbf8fd" opacity="0.85"/>
<path d="M108.0,270.0 L122.0,316.0" stroke="rgb(112,82,158)" stroke-width="13" stroke-linecap="round"/>
<path d="M108.0,270.0 L122.0,316.0" stroke="rgb(178,154,208)" stroke-width="6.2" stroke-linecap="round"/>
<circle cx="112.1" cy="279.5" r="1.7" fill="#fbf8fd" opacity="0.85"/>
<circle cx="113.6" cy="284.8" r="1.1" fill="#fbf8fd" opacity="0.85"/>
<circle cx="108.9" cy="274.3" r="1.2" fill="#fbf8fd" opacity="0.85"/>
<circle cx="117.0" cy="297.5" r="1.4" fill="#fbf8fd" opacity="0.85"/>
<circle cx="121.5" cy="314.1" r="1.5" fill="#fbf8fd" opacity="0.85"/>
<circle cx="121.6" cy="309.4" r="1.1" fill="#fbf8fd" opacity="0.85"/>
<circle cx="119.2" cy="312.2" r="1.2" fill="#fbf8fd" opacity="0.85"/>
<circle cx="109.5" cy="279.1" r="1.8" fill="#fbf8fd" opacity="0.85"/>
<circle cx="108.6" cy="279.7" r="1.8" fill="#fbf8fd" opacity="0.85"/>
<circle cx="116.8" cy="297.6" r="1.1" fill="#fbf8fd" opacity="0.85"/>
<path d="M124.0,273.0 L133.0,318.0" stroke="rgb(112,82,158)" stroke-width="13" stroke-linecap="round"/>
<path d="M124.0,273.0 L133.0,318.0" stroke="rgb(178,154,208)" stroke-width="6.2" stroke-linecap="round"/>
<circle cx="122.1" cy="275.2" r="1.2" fill="#fbf8fd" opacity="0.85"/>
<circle cx="131.5" cy="304.5" r="1.7" fill="#fbf8fd" opacity="0.85"/>
<circle cx="130.4" cy="299.6" r="1.2" fill="#fbf8fd" opacity="0.85"/>
<circle cx="132.6" cy="305.0" r="1.2" fill="#fbf8fd" opacity="0.85"/>
<circle cx="127.3" cy="298.5" r="1.6" fill="#fbf8fd" opacity="0.85"/>
<circle cx="124.5" cy="286.0" r="1.2" fill="#fbf8fd" opacity="0.85"/>
<circle cx="125.3" cy="273.5" r="1.4" fill="#fbf8fd" opacity="0.85"/>
<circle cx="126.1" cy="275.4" r="1.3" fill="#fbf8fd" opacity="0.85"/>
<circle cx="130.9" cy="298.4" r="1.3" fill="#fbf8fd" opacity="0.85"/>
<circle cx="129.7" cy="313.6" r="1.6" fill="#fbf8fd" opacity="0.85"/>
<path d="M141.0,277.0 L150.0,324.0" stroke="rgb(112,82,158)" stroke-width="13" stroke-linecap="round"/>
<path d="M141.0,277.0 L150.0,324.0" stroke="rgb(178,154,208)" stroke-width="6.2" stroke-linecap="round"/>
<circle cx="146.8" cy="309.6" r="1.1" fill="#fbf8fd" opacity="0.85"/>
<circle cx="143.7" cy="278.2" r="1.8" fill="#fbf8fd" opacity="0.85"/>
<circle cx="145.1" cy="310.4" r="1.0" fill="#fbf8fd" opacity="0.85"/>
<circle cx="146.8" cy="306.9" r="1.7" fill="#fbf8fd" opacity="0.85"/>
<circle cx="141.4" cy="292.5" r="1.1" fill="#fbf8fd" opacity="0.85"/>
<circle cx="144.8" cy="302.9" r="1.8" fill="#fbf8fd" opacity="0.85"/>
<circle cx="146.6" cy="311.8" r="1.7" fill="#fbf8fd" opacity="0.85"/>
<circle cx="150.0" cy="319.9" r="1.6" fill="#fbf8fd" opacity="0.85"/>
<circle cx="147.3" cy="319.7" r="1.4" fill="#fbf8fd" opacity="0.85"/>
<circle cx="146.3" cy="314.5" r="1.5" fill="#fbf8fd" opacity="0.85"/>
<ellipse cx="75" cy="318" rx="4" ry="2.8" fill="#f4eef8"/>
<ellipse cx="119.4" cy="323.0" rx="1.7" ry="0.8" transform="rotate(7 119.4 323.0)" fill="rgb(110,80,150)" opacity="0.7"/>
<ellipse cx="67.6" cy="326.3" rx="2.2" ry="0.8" transform="rotate(23 67.6 326.3)" fill="rgb(110,80,150)" opacity="0.7"/>
<ellipse cx="129.2" cy="323.0" rx="1.9" ry="0.8" transform="rotate(5 129.2 323.0)" fill="rgb(110,80,150)" opacity="0.7"/>
<ellipse cx="101.8" cy="328.9" rx="1.1" ry="0.8" transform="rotate(15 101.8 328.9)" fill="rgb(110,80,150)" opacity="0.7"/>
<ellipse cx="62.8" cy="325.8" rx="1.6" ry="0.8" transform="rotate(-16 62.8 325.8)" fill="rgb(110,80,150)" opacity="0.7"/>
<ellipse cx="126.3" cy="324.5" rx="1.7" ry="0.8" transform="rotate(25 126.3 324.5)" fill="rgb(110,80,150)" opacity="0.7"/>
<ellipse cx="84.3" cy="318.1" rx="1.4" ry="0.8" transform="rotate(11 84.3 318.1)" fill="rgb(110,80,150)" opacity="0.7"/>
<ellipse cx="79.2" cy="320.2" rx="2.1" ry="0.8" transform="rotate(10 79.2 320.2)" fill="rgb(110,80,150)" opacity="0.7"/>
<ellipse cx="102.0" cy="329.6" rx="1.4" ry="0.8" transform="rotate(10 102.0 329.6)" fill="rgb(110,80,150)" opacity="0.7"/>
<ellipse cx="78.9" cy="323.6" rx="2.0" ry="0.8" transform="rotate(25 78.9 323.6)" fill="rgb(110,80,150)" opacity="0.7"/>
<ellipse cx="143.6" cy="323.0" rx="1.7" ry="0.8" transform="rotate(-11 143.6 323.0)" fill="rgb(110,80,150)" opacity="0.7"/>
<ellipse cx="72.9" cy="324.5" rx="2.0" ry="0.8" transform="rotate(21 72.9 324.5)" fill="rgb(110,80,150)" opacity="0.7"/>
<ellipse cx="127.6" cy="330.4" rx="1.3" ry="0.8" transform="rotate(-20 127.6 330.4)" fill="rgb(110,80,150)" opacity="0.7"/>
<ellipse cx="102.8" cy="321.6" rx="1.3" ry="0.8" transform="rotate(-5 102.8 321.6)" fill="rgb(110,80,150)" opacity="0.7"/>
<ellipse cx="119.4" cy="324.4" rx="1.4" ry="0.8" transform="rotate(20 119.4 324.4)" fill="rgb(110,80,150)" opacity="0.7"/>
<ellipse cx="153.3" cy="323.9" rx="1.1" ry="0.8" transform="rotate(-28 153.3 323.9)" fill="rgb(110,80,150)" opacity="0.7"/>
<ellipse cx="142.9" cy="318.5" rx="1.9" ry="0.8" transform="rotate(4 142.9 318.5)" fill="rgb(110,80,150)" opacity="0.7"/>
<ellipse cx="89.4" cy="328.3" rx="1.0" ry="0.8" transform="rotate(-22 89.4 328.3)" fill="rgb(110,80,150)" opacity="0.7"/>
<ellipse cx="103.2" cy="318.3" rx="2.0" ry="0.8" transform="rotate(-16 103.2 318.3)" fill="rgb(110,80,150)" opacity="0.7"/>
<ellipse cx="73.4" cy="318.6" rx="1.8" ry="0.8" transform="rotate(-3 73.4 318.6)" fill="rgb(110,80,150)" opacity="0.7"/>
<ellipse cx="119.8" cy="326.5" rx="2.0" ry="0.8" transform="rotate(28 119.8 326.5)" fill="rgb(110,80,150)" opacity="0.7"/>
<ellipse cx="125.0" cy="320.6" rx="1.6" ry="0.8" transform="rotate(-19 125.0 320.6)" fill="rgb(110,80,150)" opacity="0.7"/>
<ellipse cx="61.0" cy="324.1" rx="1.9" ry="0.8" transform="rotate(-19 61.0 324.1)" fill="rgb(110,80,150)" opacity="0.7"/>
<ellipse cx="85.9" cy="322.5" rx="1.8" ry="0.8" transform="rotate(1 85.9 322.5)" fill="rgb(110,80,150)" opacity="0.7"/>
<ellipse cx="118.4" cy="327.8" rx="1.5" ry="0.8" transform="rotate(18 118.4 327.8)" fill="rgb(110,80,150)" opacity="0.7"/>
<ellipse cx="146.1" cy="319.1" rx="2.1" ry="0.8" transform="rotate(13 146.1 319.1)" fill="rgb(110,80,150)" opacity="0.7"/>
<ellipse cx="72.3" cy="323.9" rx="1.8" ry="0.8" transform="rotate(25 72.3 323.9)" fill="rgb(110,80,150)" opacity="0.7"/>
<ellipse cx="95.8" cy="325.4" rx="2.1" ry="0.8" transform="rotate(18 95.8 325.4)" fill="rgb(110,80,150)" opacity="0.7"/>
<ellipse cx="149.7" cy="324.0" rx="1.8" ry="0.8" transform="rotate(-18 149.7 324.0)" fill="rgb(110,80,150)" opacity="0.7"/>
<ellipse cx="128.6" cy="328.6" rx="1.8" ry="0.8" transform="rotate(13 128.6 328.6)" fill="rgb(110,80,150)" opacity="0.7"/>
<ellipse cx="80.3" cy="329.7" rx="2.2" ry="0.8" transform="rotate(29 80.3 329.7)" fill="rgb(110,80,150)" opacity="0.7"/>
<ellipse cx="111.0" cy="328.3" rx="1.4" ry="0.8" transform="rotate(25 111.0 328.3)" fill="rgb(110,80,150)" opacity="0.7"/>
<ellipse cx="141.3" cy="322.5" rx="1.1" ry="0.8" transform="rotate(-4 141.3 322.5)" fill="rgb(110,80,150)" opacity="0.7"/>
<ellipse cx="112.3" cy="328.0" rx="1.6" ry="0.8" transform="rotate(-28 112.3 328.0)" fill="rgb(110,80,150)" opacity="0.7"/>
<ellipse cx="136.9" cy="318.8" rx="2.0" ry="0.8" transform="rotate(-20 136.9 318.8)" fill="rgb(110,80,150)" opacity="0.7"/>
<ellipse cx="91.8" cy="328.2" rx="1.2" ry="0.8" transform="rotate(-21 91.8 328.2)" fill="rgb(110,80,150)" opacity="0.7"/>
<ellipse cx="109.1" cy="327.4" rx="2.0" ry="0.8" transform="rotate(11 109.1 327.4)" fill="rgb(110,80,150)" opacity="0.7"/>
<ellipse cx="149.8" cy="324.4" rx="2.1" ry="0.8" transform="rotate(-25 149.8 324.4)" fill="rgb(110,80,150)" opacity="0.7"/>
<ellipse cx="81.0" cy="324.8" rx="1.3" ry="0.8" transform="rotate(14 81.0 324.8)" fill="rgb(110,80,150)" opacity="0.7"/>
<ellipse cx="120.7" cy="324.8" rx="2.0" ry="0.8" transform="rotate(4 120.7 324.8)" fill="rgb(110,80,150)" opacity="0.7"/>
<path d="M84.5,268 L86,277 L87.5,268Z" fill="#fbf7fc"/>
<path d="M99.5,267 L101,276 L102.5,267Z" fill="#fbf7fc"/>
<path d="M114.5,269 L116,278 L117.5,269Z" fill="#fbf7fc"/>
<path d="M133.5,273 L135,282 L136.5,273Z" fill="#fbf7fc"/>
<path d="M146.5,276 L148,285 L149.5,276Z" fill="#fbf7fc"/>
<path d="M86,324 L89,329 L83,329Z" fill="#222"/>
</g>
<path d="M57.0,292.0 C57.3,291.6 58.2,290.7 59.0,289.5 C59.8,288.3 60.8,286.4 62.0,284.7 C63.2,282.9 64.7,280.5 66.0,279.0 C67.3,277.5 68.5,276.8 70.0,275.7 C71.5,274.6 73.3,273.2 75.0,272.3 C76.7,271.4 78.3,270.7 80.0,270.2 C81.7,269.7 83.3,269.4 85.0,269.5 C86.7,269.6 88.3,270.5 90.0,270.5 C91.7,270.5 93.3,269.7 95.0,269.5 C96.7,269.3 98.3,269.4 100.0,269.5 C101.7,269.6 103.3,270.2 105.0,270.2 C106.7,270.2 108.3,269.1 110.0,269.5 C111.7,269.9 113.7,271.4 115.0,272.3 C116.3,273.2 116.8,275.0 118.0,275.0 C119.2,275.0 120.0,272.6 122.0,272.3 C124.0,272.0 127.8,272.0 130.0,273.0 C132.2,274.0 133.7,278.1 135.0,278.5 C136.3,278.9 136.7,276.3 138.0,275.7 C139.3,275.1 141.3,274.8 143.0,275.0 C144.7,275.2 146.5,275.7 148.0,277.0 C149.5,278.3 150.5,281.1 152.0,282.6 C153.5,284.1 156.2,285.4 157.0,286.0" stroke="rgb(190,128,185)" stroke-width="4.5" fill="none" filter="url(#bl1)"/>
<rect x="59" y="264" width="96.5" height="72.5" filter="url(#ndc0)"/>
<rect x="59" y="264" width="96.5" height="72.5" filter="url(#nlc0)"/>
</g></g>
<g clip-path="url(#cc1)"><rect x="59" y="336.5" width="96.5" height="72.0" fill="#fdfcfe"/>
<g clip-path="url(#ct1)">
<rect x="59" y="336.5" width="96.5" height="72.0" fill="rgb(146,114,182)"/>
<g filter="url(#bl1)">
<path d="M70,366 L72,396" stroke="rgb(208,182,220)" stroke-width="20" stroke-linecap="round" opacity="0.85"/>
<path d="M93,368 L94,399" stroke="rgb(208,182,220)" stroke-width="19" stroke-linecap="round" opacity="0.85"/>
<path d="M114,376 L115,399" stroke="rgb(208,182,220)" stroke-width="15" stroke-linecap="round" opacity="0.85"/>
<path d="M132,352 L134,386" stroke="rgb(208,182,220)" stroke-width="21" stroke-linecap="round" opacity="0.85"/>
<path d="M108,352 L108,362" stroke="rgb(208,182,220)" stroke-width="14" stroke-linecap="round" opacity="0.85"/>
<path d="M82,352 L82,356" stroke="rgb(208,182,220)" stroke-width="12" stroke-linecap="round" opacity="0.85"/>
<path d="M70.0,366.0 L72.0,396.0" stroke="rgb(108,78,154)" stroke-width="17" stroke-linecap="round"/>
<path d="M70.0,366.0 L72.0,396.0" stroke="rgb(192,172,216)" stroke-width="10.6" stroke-linecap="round"/>
<circle cx="71.6" cy="375.3" r="1.3" fill="#fbf8fd" opacity="0.85"/>
<circle cx="74.3" cy="392.9" r="1.3" fill="#fbf8fd" opacity="0.85"/>
<circle cx="71.7" cy="395.1" r="1.1" fill="#fbf8fd" opacity="0.85"/>
<circle cx="70.1" cy="372.0" r="1.1" fill="#fbf8fd" opacity="0.85"/>
<circle cx="75.2" cy="383.9" r="1.4" fill="#fbf8fd" opacity="0.85"/>
<path d="M93.0,368.0 L94.0,399.0" stroke="rgb(108,78,154)" stroke-width="16" stroke-linecap="round"/>
<path d="M93.0,368.0 L94.0,399.0" stroke="rgb(192,172,216)" stroke-width="9.6" stroke-linecap="round"/>
<circle cx="94.3" cy="384.0" r="1.3" fill="#fbf8fd" opacity="0.85"/>
<circle cx="93.6" cy="385.4" r="1.2" fill="#fbf8fd" opacity="0.85"/>
<circle cx="92.8" cy="370.1" r="1.0" fill="#fbf8fd" opacity="0.85"/>
<circle cx="90.7" cy="397.8" r="1.0" fill="#fbf8fd" opacity="0.85"/>
<circle cx="96.3" cy="382.6" r="1.1" fill="#fbf8fd" opacity="0.85"/>
<path d="M114.0,376.0 L115.0,399.0" stroke="rgb(108,78,154)" stroke-width="12" stroke-linecap="round"/>
<path d="M114.0,376.0 L115.0,399.0" stroke="rgb(192,172,216)" stroke-width="5.6" stroke-linecap="round"/>
<circle cx="113.0" cy="394.8" r="1.1" fill="#fbf8fd" opacity="0.85"/>
<circle cx="115.7" cy="383.2" r="1.2" fill="#fbf8fd" opacity="0.85"/>
<circle cx="116.6" cy="397.2" r="1.3" fill="#fbf8fd" opacity="0.85"/>
<circle cx="115.4" cy="376.5" r="0.9" fill="#fbf8fd" opacity="0.85"/>
<circle cx="115.5" cy="391.8" r="1.0" fill="#fbf8fd" opacity="0.85"/>
<path d="M132.0,352.0 L134.0,386.0" stroke="rgb(108,78,154)" stroke-width="18" stroke-linecap="round"/>
<path d="M132.0,352.0 L134.0,386.0" stroke="rgb(192,172,216)" stroke-width="11.6" stroke-linecap="round"/>
<circle cx="136.9" cy="372.9" r="1.2" fill="#fbf8fd" opacity="0.85"/>
<circle cx="132.1" cy="356.2" r="1.0" fill="#fbf8fd" opacity="0.85"/>
<circle cx="132.1" cy="358.7" r="1.1" fill="#fbf8fd" opacity="0.85"/>
<circle cx="133.6" cy="364.7" r="1.1" fill="#fbf8fd" opacity="0.85"/>
<circle cx="135.1" cy="357.3" r="1.2" fill="#fbf8fd" opacity="0.85"/>
<path d="M108.0,352.0 L108.0,362.0" stroke="rgb(108,78,154)" stroke-width="11" stroke-linecap="round"/>
<path d="M108.0,352.0 L108.0,362.0" stroke="rgb(192,172,216)" stroke-width="4.6" stroke-linecap="round"/>
<circle cx="107.9" cy="358.4" r="1.3" fill="#fbf8fd" opacity="0.85"/>
<circle cx="106.7" cy="358.1" r="0.9" fill="#fbf8fd" opacity="0.85"/>
<circle cx="106.9" cy="359.4" r="1.3" fill="#fbf8fd" opacity="0.85"/>
<circle cx="108.7" cy="355.2" r="1.4" fill="#fbf8fd" opacity="0.85"/>
<circle cx="106.2" cy="354.2" r="1.3" fill="#fbf8fd" opacity="0.85"/>
<path d="M82.0,352.0 L82.0,356.0" stroke="rgb(108,78,154)" stroke-width="9" stroke-linecap="round"/>
<path d="M82.0,352.0 L82.0,356.0" stroke="rgb(192,172,216)" stroke-width="2.6" stroke-linecap="round"/>
<circle cx="82.5" cy="352.5" r="1.2" fill="#fbf8fd" opacity="0.85"/>
<circle cx="82.8" cy="353.0" r="1.3" fill="#fbf8fd" opacity="0.85"/>
<circle cx="81.4" cy="353.7" r="0.9" fill="#fbf8fd" opacity="0.85"/>
<circle cx="81.6" cy="353.6" r="0.8" fill="#fbf8fd" opacity="0.85"/>
<circle cx="81.6" cy="352.8" r="1.3" fill="#fbf8fd" opacity="0.85"/>
<path d="M128,396 L147,402" stroke="rgb(208,182,220)" stroke-width="11" stroke-linecap="round" opacity="0.85"/>
<path d="M128,396 L147,402" stroke="rgb(108,78,154)" stroke-width="8" stroke-linecap="round"/>
<path d="M128,396 L147,402" stroke="rgb(192,172,216)" stroke-width="3" stroke-linecap="round"/>
<path d="M146,338 L156,338 L156,352 C150,348 146,344 146,338Z" fill="rgb(225,210,232)"/>
<ellipse cx="114.4" cy="389.5" rx="1.6" ry="3.2" fill="#111"/>
</g>
<path d="M57.0,350.5 C57.3,350.4 56.8,350.6 59.0,349.8 C61.2,349.1 66.5,347.1 70.0,346.0 C73.5,344.9 76.7,344.1 80.0,343.4 C83.3,342.6 86.7,342.1 90.0,341.5 C93.3,340.9 97.5,340.1 100.0,339.7 C102.5,339.2 103.3,338.5 105.0,338.8 C106.7,339.1 108.3,341.3 110.0,341.5 C111.7,341.7 112.5,340.4 115.0,340.0 C117.5,339.6 121.7,338.7 125.0,338.8 C128.3,338.9 132.5,339.6 135.0,340.6 C137.5,341.6 138.3,344.9 140.0,345.0 C141.7,345.1 143.3,341.8 145.0,341.5 C146.7,341.2 148.0,342.2 150.0,343.0 C152.0,343.8 155.8,345.5 157.0,346.0" stroke="rgb(200,140,195)" stroke-width="6" fill="none" filter="url(#bl1)"/>
<rect x="59" y="336.5" width="96.5" height="72.0" filter="url(#ndc1)"/>
<rect x="59" y="336.5" width="96.5" height="72.0" filter="url(#nlc1)"/>
</g></g>
<g clip-path="url(#cc2)"><rect x="59" y="408.5" width="96.5" height="73.0" fill="#fdfcfe"/>
<g clip-path="url(#ct2)">
<rect x="59" y="408.5" width="96.5" height="73.0" fill="rgb(150,118,185)"/>
<g filter="url(#bl1)">
<path d="M63.0,424.0 L66.0,458.0" stroke="rgb(108,76,152)" stroke-width="13" stroke-linecap="round"/>
<path d="M63.0,424.0 L66.0,458.0" stroke="rgb(178,150,205)" stroke-width="7.8" stroke-linecap="round"/>
<path d="M80.0,420.0 L84.0,468.0" stroke="rgb(108,76,152)" stroke-width="15" stroke-linecap="round"/>
<path d="M80.0,420.0 L84.0,468.0" stroke="rgb(178,150,205)" stroke-width="9.8" stroke-linecap="round"/>
<path d="M98.0,418.0 L100.0,468.0" stroke="rgb(108,76,152)" stroke-width="14" stroke-linecap="round"/>
<path d="M98.0,418.0 L100.0,468.0" stroke="rgb(178,150,205)" stroke-width="8.8" stroke-linecap="round"/>
<path d="M115.0,416.0 L117.0,474.0" stroke="rgb(108,76,152)" stroke-width="15" stroke-linecap="round"/>
<path d="M115.0,416.0 L117.0,474.0" stroke="rgb(178,150,205)" stroke-width="9.8" stroke-linecap="round"/>
<path d="M132.0,414.0 L134.0,476.0" stroke="rgb(108,76,152)" stroke-width="15" stroke-linecap="round"/>
<path d="M132.0,414.0 L134.0,476.0" stroke="rgb(178,150,205)" stroke-width="9.8" stroke-linecap="round"/>
<path d="M149.0,413.0 L151.0,476.0" stroke="rgb(108,76,152)" stroke-width="14" stroke-linecap="round"/>
<path d="M149.0,413.0 L151.0,476.0" stroke="rgb(178,150,205)" stroke-width="8.8" stroke-linecap="round"/>
<ellipse cx="63" cy="462" rx="5" ry="7" fill="#f6f2fa"/>
<path d="M57,470 C75,469 95,471 110,473 C120,475 126,478 130,484 L57,484Z" fill="rgb(214,166,204)"/>
<path d="M62,474 C80,472 95,477 118,474 M70,478 C90,476 110,479 130,477" stroke="rgb(110,70,130)" stroke-width="0.9" fill="none"/>
<path d="M78,476 C90,473 100,476 112,475" stroke="#fff" stroke-width="1" fill="none"/>
<path d="M91,446 L94,458 L88,458Z" fill="#222"/>
</g>
<path d="M57.0,422.0 C57.3,422.0 57.7,422.1 59.0,421.8 C60.3,421.5 62.3,420.4 65.0,420.0 C67.7,419.6 71.7,419.6 75.0,419.4 C78.3,419.2 82.5,419.3 85.0,419.0 C87.5,418.7 87.5,418.1 90.0,417.6 C92.5,417.2 96.7,416.7 100.0,416.3 C103.3,415.9 106.7,415.9 110.0,415.4 C113.3,414.9 116.7,414.0 120.0,413.5 C123.3,413.0 126.7,412.9 130.0,412.6 C133.3,412.4 135.5,412.1 140.0,412.0 C144.5,411.9 154.2,411.8 157.0,411.7" stroke="rgb(200,140,195)" stroke-width="3" fill="none" filter="url(#bl1)"/>
<rect x="59" y="408.5" width="96.5" height="73.0" filter="url(#ndc2)"/>
<rect x="59" y="408.5" width="96.5" height="73.0" filter="url(#nlc2)"/>
<g filter="url(#bl1)"><circle cx="153.0" cy="420.3" r="2.5" fill="#fcfafd" opacity="0.9"/><circle cx="133.3" cy="431.6" r="2.7" fill="#fcfafd" opacity="0.9"/><circle cx="79.8" cy="419.0" r="2.1" fill="#fcfafd" opacity="0.9"/><circle cx="65.5" cy="433.0" r="2.5" fill="#fcfafd" opacity="0.9"/><circle cx="115.5" cy="421.3" r="2.2" fill="#fcfafd" opacity="0.9"/><circle cx="81.2" cy="441.4" r="3.0" fill="#fcfafd" opacity="0.9"/><circle cx="149.1" cy="419.8" r="2.1" fill="#fcfafd" opacity="0.9"/><circle cx="151.4" cy="430.4" r="2.8" fill="#fcfafd" opacity="0.9"/><circle cx="92.7" cy="430.5" r="2.5" fill="#fcfafd" opacity="0.9"/><circle cx="102.4" cy="434.4" r="2.0" fill="#fcfafd" opacity="0.9"/><circle cx="127.9" cy="441.5" r="2.2" fill="#fcfafd" opacity="0.9"/><circle cx="104.7" cy="438.4" r="2.4" fill="#fcfafd" opacity="0.9"/><circle cx="80.3" cy="421.8" r="2.5" fill="#fcfafd" opacity="0.9"/><circle cx="63.4" cy="442.9" r="2.8" fill="#fcfafd" opacity="0.9"/><circle cx="128.2" cy="442.0" r="2.6" fill="#fcfafd" opacity="0.9"/><circle cx="100.0" cy="434.4" r="2.5" fill="#fcfafd" opacity="0.9"/><circle cx="154.4" cy="440.3" r="2.3" fill="#fcfafd" opacity="0.9"/><circle cx="147.7" cy="438.6" r="2.8" fill="#fcfafd" opacity="0.9"/><circle cx="138.6" cy="428.8" r="2.9" fill="#fcfafd" opacity="0.9"/><circle cx="144.7" cy="437.1" r="2.8" fill="#fcfafd" opacity="0.9"/><circle cx="133.9" cy="428.8" r="2.7" fill="#fcfafd" opacity="0.9"/><circle cx="68.6" cy="426.9" r="2.5" fill="#fcfafd" opacity="0.9"/><circle cx="63.0" cy="427.3" r="2.6" fill="#fcfafd" opacity="0.9"/><circle cx="120.7" cy="423.7" r="2.9" fill="#fcfafd" opacity="0.9"/><circle cx="124.6" cy="426.8" r="2.7" fill="#fcfafd" opacity="0.9"/><circle cx="115.5" cy="432.5" r="2.4" fill="#fcfafd" opacity="0.9"/><circle cx="156.0" cy="435.6" r="2.7" fill="#fcfafd" opacity="0.9"/><circle cx="133.6" cy="445.4" r="2.0" fill="#fcfafd" opacity="0.9"/><circle cx="119.8" cy="438.4" r="2.3" fill="#fcfafd" opacity="0.9"/><circle cx="99.7" cy="418.5" r="2.2" fill="#fcfafd" opacity="0.9"/><circle cx="97.3" cy="419.9" r="2.3" fill="#fcfafd" opacity="0.9"/><circle cx="147.1" cy="433.0" r="2.5" fill="#fcfafd" opacity="0.9"/><circle cx="152.9" cy="433.5" r="3.0" fill="#fcfafd" opacity="0.9"/><circle cx="122.0" cy="440.5" r="2.1" fill="#fcfafd" opacity="0.9"/><circle cx="118.2" cy="439.0" r="2.0" fill="#fcfafd" opacity="0.9"/><circle cx="149.4" cy="421.6" r="2.5" fill="#fcfafd" opacity="0.9"/><circle cx="77.9" cy="431.4" r="2.6" fill="#fcfafd" opacity="0.9"/><circle cx="67.5" cy="444.4" r="2.4" fill="#fcfafd" opacity="0.9"/><circle cx="111.5" cy="434.3" r="2.4" fill="#fcfafd" opacity="0.9"/><circle cx="88.9" cy="436.0" r="2.6" fill="#fcfafd" opacity="0.9"/><circle cx="88.7" cy="437.8" r="2.3" fill="#fcfafd" opacity="0.9"/><circle cx="63.3" cy="424.1" r="2.0" fill="#fcfafd" opacity="0.9"/><circle cx="76.7" cy="438.9" r="2.4" fill="#fcfafd" opacity="0.9"/><circle cx="146.4" cy="438.7" r="2.1" fill="#fcfafd" opacity="0.9"/><circle cx="154.9" cy="444.4" r="2.1" fill="#fcfafd" opacity="0.9"/><circle cx="147.1" cy="429.5" r="2.5" fill="#fcfafd" opacity="0.9"/><circle cx="153.5" cy="424.1" r="2.5" fill="#fcfafd" opacity="0.9"/><circle cx="150.1" cy="438.0" r="2.5" fill="#fcfafd" opacity="0.9"/><circle cx="154.0" cy="440.7" r="2.6" fill="#fcfafd" opacity="0.9"/><circle cx="72.8" cy="435.1" r="2.5" fill="#fcfafd" opacity="0.9"/><circle cx="81.1" cy="418.5" r="2.5" fill="#fcfafd" opacity="0.9"/><circle cx="73.7" cy="429.8" r="2.7" fill="#fcfafd" opacity="0.9"/><circle cx="104.8" cy="424.6" r="2.6" fill="#fcfafd" opacity="0.9"/><circle cx="101.4" cy="439.6" r="2.5" fill="#fcfafd" opacity="0.9"/><circle cx="155.8" cy="444.6" r="2.7" fill="#fcfafd" opacity="0.9"/><circle cx="62.8" cy="442.5" r="2.6" fill="#fcfafd" opacity="0.88"/><circle cx="66.2" cy="453.6" r="2.1" fill="#fcfafd" opacity="0.88"/><circle cx="65.6" cy="443.1" r="2.3" fill="#fcfafd" opacity="0.88"/><circle cx="65.9" cy="449.7" r="2.5" fill="#fcfafd" opacity="0.88"/><circle cx="63.4" cy="441.5" r="2.7" fill="#fcfafd" opacity="0.88"/><circle cx="67.6" cy="456.3" r="1.8" fill="#fcfafd" opacity="0.88"/><circle cx="63.2" cy="438.8" r="2.2" fill="#fcfafd" opacity="0.88"/><circle cx="63.5" cy="450.3" r="2.3" fill="#fcfafd" opacity="0.88"/><circle cx="79.5" cy="441.3" r="2.4" fill="#fcfafd" opacity="0.88"/><circle cx="83.6" cy="455.1" r="2.1" fill="#fcfafd" opacity="0.88"/><circle cx="81.2" cy="453.0" r="2.1" fill="#fcfafd" opacity="0.88"/><circle cx="85.2" cy="460.7" r="1.9" fill="#fcfafd" opacity="0.88"/><circle cx="83.6" cy="442.6" r="2.4" fill="#fcfafd" opacity="0.88"/><circle cx="81.9" cy="461.3" r="2.2" fill="#fcfafd" opacity="0.88"/><circle cx="83.9" cy="446.6" r="2.1" fill="#fcfafd" opacity="0.88"/><circle cx="85.8" cy="458.0" r="2.1" fill="#fcfafd" opacity="0.88"/><circle cx="100.7" cy="454.5" r="2.6" fill="#fcfafd" opacity="0.88"/><circle cx="98.7" cy="450.8" r="1.9" fill="#fcfafd" opacity="0.88"/><circle cx="97.7" cy="464.3" r="1.9" fill="#fcfafd" opacity="0.88"/><circle cx="99.4" cy="454.9" r="2.4" fill="#fcfafd" opacity="0.88"/><circle cx="100.5" cy="447.0" r="1.9" fill="#fcfafd" opacity="0.88"/><circle cx="99.9" cy="444.4" r="1.9" fill="#fcfafd" opacity="0.88"/><circle cx="100.3" cy="447.1" r="2.4" fill="#fcfafd" opacity="0.88"/><circle cx="97.3" cy="446.5" r="2.1" fill="#fcfafd" opacity="0.88"/><circle cx="115.9" cy="464.5" r="1.9" fill="#fcfafd" opacity="0.88"/><circle cx="117.0" cy="463.9" r="2.6" fill="#fcfafd" opacity="0.88"/><circle cx="119.2" cy="471.9" r="2.2" fill="#fcfafd" opacity="0.88"/><circle cx="115.7" cy="467.1" r="2.1" fill="#fcfafd" opacity="0.88"/><circle cx="118.6" cy="453.1" r="2.6" fill="#fcfafd" opacity="0.88"/><circle cx="115.4" cy="447.8" r="2.1" fill="#fcfafd" opacity="0.88"/><circle cx="115.7" cy="451.8" r="2.1" fill="#fcfafd" opacity="0.88"/><circle cx="116.4" cy="446.0" r="2.5" fill="#fcfafd" opacity="0.88"/><circle cx="135.3" cy="458.9" r="2.3" fill="#fcfafd" opacity="0.88"/><circle cx="134.4" cy="445.4" r="2.6" fill="#fcfafd" opacity="0.88"/><circle cx="130.6" cy="449.3" r="2.3" fill="#fcfafd" opacity="0.88"/><circle cx="133.8" cy="459.0" r="2.7" fill="#fcfafd" opacity="0.88"/><circle cx="135.2" cy="463.0" r="1.9" fill="#fcfafd" opacity="0.88"/><circle cx="135.0" cy="459.1" r="1.9" fill="#fcfafd" opacity="0.88"/><circle cx="134.2" cy="441.8" r="2.6" fill="#fcfafd" opacity="0.88"/><circle cx="133.6" cy="442.0" r="1.9" fill="#fcfafd" opacity="0.88"/><circle cx="151.4" cy="466.4" r="2.0" fill="#fcfafd" opacity="0.88"/><circle cx="151.4" cy="446.5" r="2.3" fill="#fcfafd" opacity="0.88"/><circle cx="150.2" cy="467.1" r="2.1" fill="#fcfafd" opacity="0.88"/><circle cx="151.8" cy="474.8" r="2.2" fill="#fcfafd" opacity="0.88"/><circle cx="151.6" cy="458.5" r="2.4" fill="#fcfafd" opacity="0.88"/><circle cx="150.4" cy="472.8" r="2.5" fill="#fcfafd" opacity="0.88"/><circle cx="152.4" cy="463.4" r="2.5" fill="#fcfafd" opacity="0.88"/><circle cx="152.8" cy="469.7" r="2.7" fill="#fcfafd" opacity="0.88"/></g>
</g></g>
<g clip-path="url(#cc3)"><rect x="59" y="481.5" width="96.5" height="68.5" fill="#fdfcfe"/>
<g clip-path="url(#ct3)">
<rect x="59" y="481.5" width="96.5" height="68.5" fill="rgb(204,180,216)"/>
<g filter="url(#bl1)">
<path d="M72.0,488.0 L72.0,531.0" stroke="rgb(104,76,152)" stroke-width="18" stroke-linecap="round"/>
<path d="M72.0,488.0 L72.0,531.0" stroke="rgb(146,118,188)" stroke-width="12.4" stroke-linecap="round"/>
<circle cx="71.8" cy="515.5" r="1.3" fill="#eee6f4" opacity="0.8"/>
<circle cx="72.8" cy="522.5" r="1.1" fill="#eee6f4" opacity="0.8"/>
<circle cx="69.6" cy="494.3" r="1.5" fill="#eee6f4" opacity="0.8"/>
<circle cx="75.3" cy="504.1" r="0.9" fill="#eee6f4" opacity="0.8"/>
<circle cx="74.1" cy="506.3" r="1.5" fill="#eee6f4" opacity="0.8"/>
<circle cx="73.9" cy="490.5" r="0.9" fill="#eee6f4" opacity="0.8"/>
<circle cx="69.3" cy="515.9" r="0.9" fill="#eee6f4" opacity="0.8"/>
<circle cx="72.4" cy="490.7" r="1.2" fill="#eee6f4" opacity="0.8"/>
<path d="M93.0,484.0 L94.0,530.0" stroke="rgb(104,76,152)" stroke-width="17" stroke-linecap="round"/>
<path d="M93.0,484.0 L94.0,530.0" stroke="rgb(146,118,188)" stroke-width="11.4" stroke-linecap="round"/>
<circle cx="98.1" cy="525.7" r="0.9" fill="#eee6f4" opacity="0.8"/>
<circle cx="95.8" cy="492.4" r="1.0" fill="#eee6f4" opacity="0.8"/>
<circle cx="92.9" cy="517.0" r="1.0" fill="#eee6f4" opacity="0.8"/>
<circle cx="95.2" cy="492.5" r="0.9" fill="#eee6f4" opacity="0.8"/>
<circle cx="95.5" cy="518.8" r="1.2" fill="#eee6f4" opacity="0.8"/>
<circle cx="94.0" cy="521.6" r="1.0" fill="#eee6f4" opacity="0.8"/>
<circle cx="90.1" cy="524.9" r="1.0" fill="#eee6f4" opacity="0.8"/>
<circle cx="89.4" cy="509.3" r="1.1" fill="#eee6f4" opacity="0.8"/>
<path d="M113.0,478.0 L113.0,532.0" stroke="rgb(104,76,152)" stroke-width="18" stroke-linecap="round"/>
<path d="M113.0,478.0 L113.0,532.0" stroke="rgb(146,118,188)" stroke-width="12.4" stroke-linecap="round"/>
<circle cx="117.5" cy="489.9" r="1.5" fill="#eee6f4" opacity="0.8"/>
<circle cx="114.1" cy="521.3" r="1.2" fill="#eee6f4" opacity="0.8"/>
<circle cx="115.2" cy="505.9" r="1.5" fill="#eee6f4" opacity="0.8"/>
<circle cx="115.6" cy="513.5" r="0.8" fill="#eee6f4" opacity="0.8"/>
<circle cx="114.3" cy="503.5" r="1.4" fill="#eee6f4" opacity="0.8"/>
<circle cx="111.9" cy="516.5" r="0.9" fill="#eee6f4" opacity="0.8"/>
<circle cx="114.8" cy="486.5" r="1.0" fill="#eee6f4" opacity="0.8"/>
<circle cx="112.8" cy="524.9" r="1.2" fill="#eee6f4" opacity="0.8"/>
<path d="M132.0,480.0 L132.0,531.0" stroke="rgb(104,76,152)" stroke-width="16" stroke-linecap="round"/>
<path d="M132.0,480.0 L132.0,531.0" stroke="rgb(146,118,188)" stroke-width="10.4" stroke-linecap="round"/>
<circle cx="133.9" cy="530.6" r="1.2" fill="#eee6f4" opacity="0.8"/>
<circle cx="129.8" cy="487.7" r="0.8" fill="#eee6f4" opacity="0.8"/>
<circle cx="129.1" cy="521.9" r="1.4" fill="#eee6f4" opacity="0.8"/>
<circle cx="133.9" cy="484.2" r="1.3" fill="#eee6f4" opacity="0.8"/>
<circle cx="132.2" cy="485.0" r="1.1" fill="#eee6f4" opacity="0.8"/>
<circle cx="131.3" cy="528.7" r="1.4" fill="#eee6f4" opacity="0.8"/>
<circle cx="129.6" cy="495.5" r="1.1" fill="#eee6f4" opacity="0.8"/>
<circle cx="135.4" cy="526.8" r="1.4" fill="#eee6f4" opacity="0.8"/>
<path d="M151.0,484.0 L150.0,530.0" stroke="rgb(104,76,152)" stroke-width="15" stroke-linecap="round"/>
<path d="M151.0,484.0 L150.0,530.0" stroke="rgb(146,118,188)" stroke-width="9.4" stroke-linecap="round"/>
<circle cx="150.5" cy="493.6" r="1.2" fill="#eee6f4" opacity="0.8"/>
<circle cx="148.3" cy="491.2" r="1.0" fill="#eee6f4" opacity="0.8"/>
<circle cx="153.9" cy="498.4" r="1.0" fill="#eee6f4" opacity="0.8"/>
<circle cx="148.9" cy="505.5" r="1.1" fill="#eee6f4" opacity="0.8"/>
<circle cx="153.3" cy="515.7" r="1.1" fill="#eee6f4" opacity="0.8"/>
<circle cx="147.0" cy="505.2" r="1.4" fill="#eee6f4" opacity="0.8"/>
<circle cx="154.0" cy="514.2" r="1.1" fill="#eee6f4" opacity="0.8"/>
<circle cx="152.3" cy="516.7" r="1.2" fill="#eee6f4" opacity="0.8"/>
<ellipse cx="110" cy="534" rx="4" ry="3" fill="#f8f4fb"/>
<ellipse cx="136" cy="494" rx="4" ry="3" fill="#f8f4fb"/>
</g>
<path d="M89,533 L91,537.5 L87,537.5Z" fill="#111"/>
<path d="M104,532 L106,536.5 L102,536.5Z" fill="#111"/>
<path d="M129,528 L131,532.5 L127,532.5Z" fill="#111"/>
<path d="M98,493 L100,497.5 L96,497.5Z" fill="#111"/>
<path d="M57.0,497.0 C57.3,496.9 57.7,497.1 59.0,496.7 C60.3,496.3 62.3,495.2 65.0,494.8 C67.7,494.4 71.7,494.4 75.0,494.0 C78.3,493.6 81.7,493.2 85.0,492.4 C88.3,491.6 91.7,490.4 95.0,489.3 C98.3,488.2 102.5,486.5 105.0,485.6 C107.5,484.7 107.5,484.3 110.0,483.8 C112.5,483.3 116.7,482.7 120.0,482.8 C123.3,482.9 126.7,483.7 130.0,484.3 C133.3,484.9 136.7,485.7 140.0,486.5 C143.3,487.3 147.2,488.7 150.0,489.3 C152.8,489.9 155.8,489.9 157.0,490.0" stroke="rgb(185,130,185)" stroke-width="3.5" fill="none" filter="url(#bl1)"/>
<rect x="59" y="481.5" width="96.5" height="68.5" filter="url(#ndc3)"/>
<rect x="59" y="481.5" width="96.5" height="68.5" filter="url(#nlc3)"/>
</g></g>
<g clip-path="url(#cl0)">
<rect x="155.5" y="264" width="96.5" height="72.5" fill="rgb(180,158,202)"/>
<path d="M158,272 C175,268 195,272 205,278 C190,282 170,282 158,280Z" fill="rgb(150,130,190)" opacity="0.5" filter="url(#bl2)"/>
<path d="M168,298 C168,291 174,288 181,289 C188,286 196,290 203,287 C210,284 218,288 224,286 C231,285 238,288 238,294 C238,300 231,302 222,301 C214,301 209,304 204,307 C199,311 195,313 189,313 C181,314 173,312 170,307 C168,304 168,301 168,298Z" fill="rgb(136,120,190)" filter="url(#bl2)"/>
<ellipse cx="204.5" cy="297.5" rx="6.5" ry="3" transform="rotate(-20 204.5 297.5)" fill="#f6f2fa" filter="url(#bl1)"/>
<ellipse cx="190.5" cy="302.5" rx="2.5" ry="3.2" fill="#eee8f4" filter="url(#bl1)"/>
<ellipse cx="187" cy="290" rx="2" ry="1" fill="#eee8f4" filter="url(#bl1)"/>
<rect x="155.5" y="264" width="96.5" height="72.5" filter="url(#ndl0)"/>
<rect x="155.5" y="264" width="96.5" height="72.5" filter="url(#nll0)"/>
<path d="M198,315.5 L201.5,323 L198,321 L194.5,323Z" fill="#111"/>
</g>
<g clip-path="url(#cl1)">
<rect x="155.5" y="336.5" width="96.5" height="72.0" fill="rgb(194,184,212)"/>
<path d="M178,386 C178,374 186,367 192,364 C197,357 204,353 210,354 C218,356 221,365 220,373 C219,381 214,387 207,389 C200,394 192,396 186,395 C180,394 178,390 178,386Z" fill="rgb(190,182,218)" opacity="0.7" filter="url(#bl3)"/>
<ellipse cx="226" cy="343.5" rx="4" ry="2.6" transform="rotate(-30 226 343.5)" fill="rgb(130,130,185)" filter="url(#bl1)"/>
<path d="M240,410 C240,400 246,396 254,396 L254,410Z" fill="rgb(105,100,170)" filter="url(#bl2)"/>
<rect x="155.5" y="336.5" width="96.5" height="72.0" filter="url(#ndl1)"/>
<rect x="155.5" y="336.5" width="96.5" height="72.0" filter="url(#nll1)"/>
<path d="M182,385 C182,375 188,368 192,366 C196,360 202,356 208,357 C214,358 217,366 217,373 C216,380 212,385 206,387 C200,391 193,393 187,392 C183,391 182,388 182,385Z" fill="rgb(88,88,156)" opacity="0.92" filter="url(#bl1)"/>
<path d="M186,383 C194,378 203,380 212,377" stroke="rgb(150,150,200)" stroke-width="2.5" fill="none" opacity="0.6" filter="url(#bl1)"/>
<ellipse cx="203" cy="362" rx="7" ry="5" transform="rotate(-20 203 362)" fill="rgb(85,85,155)" opacity="0.7" filter="url(#bl1)"/>
<path d="M207,365 C212,358 218,352 224.5,347" stroke="#f6f2fa" stroke-width="1.6" fill="none" stroke-linecap="round" filter="url(#bl1)"/>
<text x="183.3" y="377.5" font-size="11" font-weight="bold" text-anchor="middle" fill="#000">*</text>
</g>
<g clip-path="url(#cl2)">
<rect x="155.5" y="408.5" width="96.5" height="73.0" fill="rgb(188,158,198)"/>
<path d="M182,452 C190,446 200,442 212,436 C222,432 230,428 236,426" stroke="rgb(150,120,175)" stroke-width="9" fill="none" opacity="0.35" filter="url(#bl3)"/>
<ellipse cx="200.0" cy="409.8" rx="2.5" ry="1.0" transform="rotate(-60 200.0 409.8)" fill="rgb(108,90,155)" opacity="0.6"/>
<ellipse cx="215.1" cy="429.9" rx="1.8" ry="0.9" transform="rotate(-55 215.1 429.9)" fill="rgb(108,90,155)" opacity="0.6"/>
<ellipse cx="188.4" cy="437.2" rx="2.1" ry="0.8" transform="rotate(-60 188.4 437.2)" fill="rgb(108,90,155)" opacity="0.6"/>
<ellipse cx="226.2" cy="432.7" rx="2.4" ry="0.9" transform="rotate(-34 226.2 432.7)" fill="rgb(108,90,155)" opacity="0.6"/>
<ellipse cx="187.8" cy="468.5" rx="1.5" ry="0.8" transform="rotate(-65 187.8 468.5)" fill="rgb(108,90,155)" opacity="0.6"/>
<ellipse cx="221.1" cy="460.0" rx="1.6" ry="0.9" transform="rotate(-28 221.1 460.0)" fill="rgb(108,90,155)" opacity="0.6"/>
<ellipse cx="212.9" cy="415.5" rx="1.6" ry="0.8" transform="rotate(-64 212.9 415.5)" fill="rgb(108,90,155)" opacity="0.6"/>
<ellipse cx="195.1" cy="414.2" rx="2.4" ry="0.9" transform="rotate(-44 195.1 414.2)" fill="rgb(108,90,155)" opacity="0.6"/>
<ellipse cx="218.1" cy="464.2" rx="2.3" ry="0.9" transform="rotate(-53 218.1 464.2)" fill="rgb(108,90,155)" opacity="0.6"/>
<ellipse cx="195.6" cy="410.1" rx="1.8" ry="1.0" transform="rotate(-21 195.6 410.1)" fill="rgb(108,90,155)" opacity="0.6"/>
<ellipse cx="231.8" cy="456.5" rx="2.1" ry="0.7" transform="rotate(-53 231.8 456.5)" fill="rgb(108,90,155)" opacity="0.6"/>
<ellipse cx="188.9" cy="455.9" rx="1.5" ry="0.9" transform="rotate(-45 188.9 455.9)" fill="rgb(108,90,155)" opacity="0.6"/>
<ellipse cx="231.7" cy="468.4" rx="2.1" ry="0.8" transform="rotate(-32 231.7 468.4)" fill="rgb(108,90,155)" opacity="0.6"/>
<ellipse cx="242.7" cy="448.5" rx="1.8" ry="0.9" transform="rotate(-63 242.7 448.5)" fill="rgb(108,90,155)" opacity="0.6"/>
<ellipse cx="224.5" cy="480.0" rx="2.0" ry="1.0" transform="rotate(-28 224.5 480.0)" fill="rgb(108,90,155)" opacity="0.6"/>
<ellipse cx="174.9" cy="477.0" rx="2.1" ry="0.8" transform="rotate(-66 174.9 477.0)" fill="rgb(108,90,155)" opacity="0.6"/>
<ellipse cx="179.5" cy="450.5" rx="2.2" ry="0.8" transform="rotate(-24 179.5 450.5)" fill="rgb(108,90,155)" opacity="0.6"/>
<ellipse cx="190.7" cy="442.3" rx="1.5" ry="1.1" transform="rotate(-63 190.7 442.3)" fill="rgb(108,90,155)" opacity="0.6"/>
<ellipse cx="242.8" cy="448.1" rx="2.0" ry="0.9" transform="rotate(-57 242.8 448.1)" fill="rgb(108,90,155)" opacity="0.6"/>
<ellipse cx="243.3" cy="480.4" rx="2.3" ry="0.9" transform="rotate(-64 243.3 480.4)" fill="rgb(108,90,155)" opacity="0.6"/>
<ellipse cx="235.2" cy="429.8" rx="2.4" ry="0.8" transform="rotate(-41 235.2 429.8)" fill="rgb(108,90,155)" opacity="0.6"/>
<ellipse cx="235.8" cy="422.4" rx="2.0" ry="0.7" transform="rotate(-68 235.8 422.4)" fill="rgb(108,90,155)" opacity="0.6"/>
<ellipse cx="173.3" cy="480.1" rx="2.4" ry="1.0" transform="rotate(-55 173.3 480.1)" fill="rgb(108,90,155)" opacity="0.6"/>
<ellipse cx="220.4" cy="462.1" rx="1.8" ry="0.9" transform="rotate(-30 220.4 462.1)" fill="rgb(108,90,155)" opacity="0.6"/>
<ellipse cx="157.6" cy="423.4" rx="1.9" ry="0.8" transform="rotate(-51 157.6 423.4)" fill="rgb(108,90,155)" opacity="0.6"/>
<ellipse cx="210.7" cy="421.5" rx="2.0" ry="0.8" transform="rotate(-42 210.7 421.5)" fill="rgb(108,90,155)" opacity="0.6"/>
<ellipse cx="187.9" cy="455.2" rx="1.4" ry="1.0" transform="rotate(-63 187.9 455.2)" fill="rgb(108,90,155)" opacity="0.6"/>
<ellipse cx="248.1" cy="452.2" rx="1.9" ry="0.9" transform="rotate(-39 248.1 452.2)" fill="rgb(108,90,155)" opacity="0.6"/>
<ellipse cx="222.2" cy="463.6" rx="2.2" ry="0.9" transform="rotate(-20 222.2 463.6)" fill="rgb(108,90,155)" opacity="0.6"/>
<ellipse cx="236.5" cy="470.6" rx="1.8" ry="0.9" transform="rotate(-42 236.5 470.6)" fill="rgb(108,90,155)" opacity="0.6"/>
<ellipse cx="242.9" cy="446.9" rx="2.0" ry="0.9" transform="rotate(-25 242.9 446.9)" fill="rgb(108,90,155)" opacity="0.6"/>
<ellipse cx="186.8" cy="412.9" rx="2.2" ry="1.1" transform="rotate(-33 186.8 412.9)" fill="rgb(108,90,155)" opacity="0.6"/>
<ellipse cx="213.4" cy="463.1" rx="1.7" ry="0.9" transform="rotate(-67 213.4 463.1)" fill="rgb(108,90,155)" opacity="0.6"/>
<ellipse cx="167.9" cy="441.2" rx="2.0" ry="0.9" transform="rotate(-67 167.9 441.2)" fill="rgb(108,90,155)" opacity="0.6"/>
<ellipse cx="222.7" cy="446.9" rx="1.7" ry="0.8" transform="rotate(-50 222.7 446.9)" fill="rgb(108,90,155)" opacity="0.6"/>
<ellipse cx="178.6" cy="413.9" rx="2.4" ry="1.1" transform="rotate(-37 178.6 413.9)" fill="rgb(108,90,155)" opacity="0.6"/>
<ellipse cx="239.2" cy="439.3" rx="2.3" ry="0.8" transform="rotate(-33 239.2 439.3)" fill="rgb(108,90,155)" opacity="0.6"/>
<ellipse cx="210.4" cy="474.0" rx="1.5" ry="1.0" transform="rotate(-64 210.4 474.0)" fill="rgb(108,90,155)" opacity="0.6"/>
<ellipse cx="207.6" cy="477.5" rx="1.4" ry="0.8" transform="rotate(-55 207.6 477.5)" fill="rgb(108,90,155)" opacity="0.6"/>
<ellipse cx="187.2" cy="413.5" rx="2.4" ry="1.0" transform="rotate(-50 187.2 413.5)" fill="rgb(108,90,155)" opacity="0.6"/>
<ellipse cx="190.2" cy="451.2" rx="1.5" ry="0.7" transform="rotate(-25 190.2 451.2)" fill="rgb(108,90,155)" opacity="0.6"/>
<ellipse cx="185.6" cy="444.9" rx="2.4" ry="1.1" transform="rotate(-46 185.6 444.9)" fill="rgb(108,90,155)" opacity="0.6"/>
<ellipse cx="175.8" cy="430.3" rx="2.4" ry="1.1" transform="rotate(-60 175.8 430.3)" fill="rgb(108,90,155)" opacity="0.6"/>
<ellipse cx="236.4" cy="434.5" rx="1.9" ry="0.8" transform="rotate(-26 236.4 434.5)" fill="rgb(108,90,155)" opacity="0.6"/>
<ellipse cx="251.6" cy="423.5" rx="2.1" ry="0.8" transform="rotate(-26 251.6 423.5)" fill="rgb(108,90,155)" opacity="0.6"/>
<ellipse cx="160.8" cy="416.6" rx="2.2" ry="0.8" transform="rotate(-25 160.8 416.6)" fill="rgb(108,90,155)" opacity="0.6"/>
<ellipse cx="239.5" cy="460.3" rx="1.5" ry="1.0" transform="rotate(-23 239.5 460.3)" fill="rgb(108,90,155)" opacity="0.6"/>
<ellipse cx="198.7" cy="414.7" rx="1.6" ry="0.8" transform="rotate(-34 198.7 414.7)" fill="rgb(108,90,155)" opacity="0.6"/>
<ellipse cx="174.9" cy="422.0" rx="1.7" ry="1.0" transform="rotate(-30 174.9 422.0)" fill="rgb(108,90,155)" opacity="0.6"/>
<ellipse cx="191.8" cy="456.7" rx="2.4" ry="0.9" transform="rotate(-59 191.8 456.7)" fill="rgb(108,90,155)" opacity="0.6"/>
<ellipse cx="184.9" cy="475.7" rx="2.1" ry="0.8" transform="rotate(-38 184.9 475.7)" fill="rgb(108,90,155)" opacity="0.6"/>
<ellipse cx="164.6" cy="479.8" rx="1.9" ry="0.9" transform="rotate(-43 164.6 479.8)" fill="rgb(108,90,155)" opacity="0.6"/>
<ellipse cx="160.4" cy="452.2" rx="1.7" ry="0.8" transform="rotate(-30 160.4 452.2)" fill="rgb(108,90,155)" opacity="0.6"/>
<ellipse cx="164.4" cy="429.5" rx="2.2" ry="0.8" transform="rotate(-56 164.4 429.5)" fill="rgb(108,90,155)" opacity="0.6"/>
<ellipse cx="208.6" cy="422.4" rx="2.4" ry="1.1" transform="rotate(-68 208.6 422.4)" fill="rgb(108,90,155)" opacity="0.6"/>
<ellipse cx="200.3" cy="463.0" rx="1.8" ry="1.1" transform="rotate(-45 200.3 463.0)" fill="rgb(108,90,155)" opacity="0.6"/>
<ellipse cx="173.3" cy="449.0" rx="2.1" ry="0.8" transform="rotate(-37 173.3 449.0)" fill="rgb(108,90,155)" opacity="0.6"/>
<ellipse cx="231.2" cy="446.2" rx="2.0" ry="1.0" transform="rotate(-36 231.2 446.2)" fill="rgb(108,90,155)" opacity="0.6"/>
<ellipse cx="206.0" cy="477.5" rx="1.6" ry="1.0" transform="rotate(-62 206.0 477.5)" fill="rgb(108,90,155)" opacity="0.6"/>
<ellipse cx="214.4" cy="425.9" rx="1.9" ry="1.0" transform="rotate(-31 214.4 425.9)" fill="rgb(108,90,155)" opacity="0.6"/>
<ellipse cx="231.9" cy="426.0" rx="1.9" ry="0.8" transform="rotate(-41 231.9 426.0)" fill="rgb(108,90,155)" opacity="0.6"/>
<ellipse cx="203.9" cy="411.5" rx="2.1" ry="1.0" transform="rotate(-41 203.9 411.5)" fill="rgb(108,90,155)" opacity="0.6"/>
<ellipse cx="239.8" cy="422.0" rx="1.6" ry="0.7" transform="rotate(-45 239.8 422.0)" fill="rgb(108,90,155)" opacity="0.6"/>
<ellipse cx="197.7" cy="440.8" rx="1.7" ry="1.0" transform="rotate(-66 197.7 440.8)" fill="rgb(108,90,155)" opacity="0.6"/>
<ellipse cx="243.1" cy="450.0" rx="2.0" ry="1.0" transform="rotate(-58 243.1 450.0)" fill="rgb(108,90,155)" opacity="0.6"/>
<ellipse cx="170.0" cy="431.4" rx="1.4" ry="0.8" transform="rotate(-39 170.0 431.4)" fill="rgb(108,90,155)" opacity="0.6"/>
<ellipse cx="206.4" cy="428.1" rx="2.0" ry="0.7" transform="rotate(-29 206.4 428.1)" fill="rgb(108,90,155)" opacity="0.6"/>
<ellipse cx="172.5" cy="427.3" rx="1.6" ry="1.0" transform="rotate(-28 172.5 427.3)" fill="rgb(108,90,155)" opacity="0.6"/>
<ellipse cx="231.5" cy="413.4" rx="1.9" ry="0.8" transform="rotate(-59 231.5 413.4)" fill="rgb(108,90,155)" opacity="0.6"/>
<ellipse cx="249.2" cy="412.0" rx="1.9" ry="1.0" transform="rotate(-21 249.2 412.0)" fill="rgb(108,90,155)" opacity="0.6"/>
<ellipse cx="169.9" cy="441.8" rx="2.2" ry="0.7" transform="rotate(-58 169.9 441.8)" fill="rgb(108,90,155)" opacity="0.6"/>
<ellipse cx="241.4" cy="419.2" rx="1.8" ry="0.8" transform="rotate(-49 241.4 419.2)" fill="rgb(108,90,155)" opacity="0.6"/>
<ellipse cx="163.3" cy="411.5" rx="2.5" ry="1.0" transform="rotate(-33 163.3 411.5)" fill="rgb(108,90,155)" opacity="0.6"/>
<ellipse cx="178.1" cy="427.2" rx="2.0" ry="0.8" transform="rotate(-47 178.1 427.2)" fill="rgb(108,90,155)" opacity="0.6"/>
<ellipse cx="245.5" cy="435.2" rx="1.8" ry="1.1" transform="rotate(-39 245.5 435.2)" fill="rgb(108,90,155)" opacity="0.6"/>
<ellipse cx="159.8" cy="438.0" rx="2.1" ry="0.7" transform="rotate(-53 159.8 438.0)" fill="rgb(108,90,155)" opacity="0.6"/>
<ellipse cx="222.7" cy="471.2" rx="2.0" ry="1.1" transform="rotate(-47 222.7 471.2)" fill="rgb(108,90,155)" opacity="0.6"/>
<ellipse cx="193.7" cy="469.7" rx="1.8" ry="1.0" transform="rotate(-59 193.7 469.7)" fill="rgb(108,90,155)" opacity="0.6"/>
<ellipse cx="189.4" cy="422.2" rx="2.0" ry="0.8" transform="rotate(-60 189.4 422.2)" fill="rgb(108,90,155)" opacity="0.6"/>
<ellipse cx="176.6" cy="442.7" rx="1.7" ry="0.9" transform="rotate(-20 176.6 442.7)" fill="rgb(108,90,155)" opacity="0.6"/>
<ellipse cx="221.2" cy="471.1" rx="1.6" ry="0.9" transform="rotate(-66 221.2 471.1)" fill="rgb(108,90,155)" opacity="0.6"/>
<ellipse cx="222.4" cy="435.1" rx="1.7" ry="0.7" transform="rotate(-61 222.4 435.1)" fill="rgb(108,90,155)" opacity="0.6"/>
<ellipse cx="181.2" cy="437.3" rx="2.4" ry="1.0" transform="rotate(-57 181.2 437.3)" fill="rgb(108,90,155)" opacity="0.6"/>
<ellipse cx="190.7" cy="420.1" rx="2.4" ry="0.8" transform="rotate(-32 190.7 420.1)" fill="rgb(108,90,155)" opacity="0.6"/>
<ellipse cx="225.5" cy="474.3" rx="1.4" ry="0.8" transform="rotate(-51 225.5 474.3)" fill="rgb(108,90,155)" opacity="0.6"/>
<ellipse cx="164.0" cy="472.5" rx="1.8" ry="1.0" transform="rotate(-44 164.0 472.5)" fill="rgb(108,90,155)" opacity="0.6"/>
<ellipse cx="161.3" cy="437.4" rx="1.7" ry="0.7" transform="rotate(-62 161.3 437.4)" fill="rgb(108,90,155)" opacity="0.6"/>
<ellipse cx="213.2" cy="411.3" rx="1.7" ry="0.9" transform="rotate(-43 213.2 411.3)" fill="rgb(108,90,155)" opacity="0.6"/>
<ellipse cx="169.1" cy="459.9" rx="1.7" ry="1.0" transform="rotate(-37 169.1 459.9)" fill="rgb(108,90,155)" opacity="0.6"/>
<ellipse cx="170.1" cy="423.7" rx="1.7" ry="1.0" transform="rotate(-50 170.1 423.7)" fill="rgb(108,90,155)" opacity="0.6"/>
<ellipse cx="193.1" cy="471.3" rx="1.6" ry="0.8" transform="rotate(-53 193.1 471.3)" fill="rgb(108,90,155)" opacity="0.6"/>
<ellipse cx="176.7" cy="411.9" rx="1.4" ry="1.0" transform="rotate(-42 176.7 411.9)" fill="rgb(108,90,155)" opacity="0.6"/>
<ellipse cx="233.6" cy="479.2" rx="1.7" ry="1.0" transform="rotate(-24 233.6 479.2)" fill="rgb(108,90,155)" opacity="0.6"/>
<ellipse cx="176.8" cy="458.6" rx="2.1" ry="1.1" transform="rotate(-27 176.8 458.6)" fill="rgb(108,90,155)" opacity="0.6"/>
<ellipse cx="178.5" cy="454.5" rx="1.5" ry="0.9" transform="rotate(-50 178.5 454.5)" fill="rgb(108,90,155)" opacity="0.6"/>
<ellipse cx="161.8" cy="436.6" rx="1.8" ry="0.9" transform="rotate(-56 161.8 436.6)" fill="rgb(108,90,155)" opacity="0.6"/>
<ellipse cx="171.2" cy="438.0" rx="1.9" ry="0.8" transform="rotate(-37 171.2 438.0)" fill="rgb(108,90,155)" opacity="0.6"/>
<ellipse cx="179.0" cy="415.7" rx="1.8" ry="0.9" transform="rotate(-62 179.0 415.7)" fill="rgb(108,90,155)" opacity="0.6"/>
<ellipse cx="211.9" cy="459.5" rx="2.0" ry="1.0" transform="rotate(-69 211.9 459.5)" fill="rgb(108,90,155)" opacity="0.6"/>
<ellipse cx="193.6" cy="435.2" rx="1.5" ry="0.9" transform="rotate(-67 193.6 435.2)" fill="rgb(108,90,155)" opacity="0.6"/>
<ellipse cx="203.6" cy="451.2" rx="1.9" ry="0.8" transform="rotate(-57 203.6 451.2)" fill="rgb(108,90,155)" opacity="0.6"/>
<ellipse cx="158.3" cy="434.0" rx="2.4" ry="0.9" transform="rotate(-57 158.3 434.0)" fill="rgb(108,90,155)" opacity="0.6"/>
<ellipse cx="220.1" cy="422.4" rx="1.9" ry="0.9" transform="rotate(-22 220.1 422.4)" fill="rgb(108,90,155)" opacity="0.6"/>
<ellipse cx="190.8" cy="450.5" rx="2.4" ry="1.0" transform="rotate(-39 190.8 450.5)" fill="rgb(108,90,155)" opacity="0.6"/>
<ellipse cx="215.6" cy="438.6" rx="1.9" ry="0.8" transform="rotate(-29 215.6 438.6)" fill="rgb(108,90,155)" opacity="0.6"/>
<ellipse cx="240.5" cy="436.5" rx="2.4" ry="0.7" transform="rotate(-63 240.5 436.5)" fill="rgb(108,90,155)" opacity="0.6"/>
<ellipse cx="204.7" cy="431.2" rx="1.8" ry="1.1" transform="rotate(-63 204.7 431.2)" fill="rgb(108,90,155)" opacity="0.6"/>
<ellipse cx="174.5" cy="425.5" rx="2.1" ry="0.8" transform="rotate(-70 174.5 425.5)" fill="rgb(108,90,155)" opacity="0.6"/>
<ellipse cx="208.2" cy="437.4" rx="1.7" ry="0.9" transform="rotate(-37 208.2 437.4)" fill="rgb(108,90,155)" opacity="0.6"/>
<ellipse cx="208.6" cy="454.0" rx="2.0" ry="1.0" transform="rotate(-22 208.6 454.0)" fill="rgb(108,90,155)" opacity="0.6"/>
<ellipse cx="188.0" cy="434.0" rx="2.4" ry="0.8" transform="rotate(-34 188.0 434.0)" fill="rgb(108,90,155)" opacity="0.6"/>
<ellipse cx="222.8" cy="458.4" rx="2.5" ry="1.0" transform="rotate(-62 222.8 458.4)" fill="rgb(108,90,155)" opacity="0.6"/>
<ellipse cx="215.7" cy="444.3" rx="2.0" ry="0.8" transform="rotate(-56 215.7 444.3)" fill="rgb(108,90,155)" opacity="0.6"/>
<ellipse cx="227.9" cy="447.4" rx="1.7" ry="0.8" transform="rotate(-54 227.9 447.4)" fill="rgb(108,90,155)" opacity="0.6"/>
<ellipse cx="173.1" cy="446.0" rx="1.5" ry="0.7" transform="rotate(-67 173.1 446.0)" fill="rgb(108,90,155)" opacity="0.6"/>
<ellipse cx="165.8" cy="459.7" rx="1.5" ry="0.9" transform="rotate(-31 165.8 459.7)" fill="rgb(108,90,155)" opacity="0.6"/>
<ellipse cx="202.1" cy="420.7" rx="2.4" ry="1.0" transform="rotate(-67 202.1 420.7)" fill="rgb(108,90,155)" opacity="0.6"/>
<ellipse cx="180.4" cy="445.5" rx="2.3" ry="0.9" transform="rotate(-34 180.4 445.5)" fill="rgb(108,90,155)" opacity="0.6"/>
<ellipse cx="180.2" cy="460.5" rx="1.8" ry="0.8" transform="rotate(-32 180.2 460.5)" fill="rgb(108,90,155)" opacity="0.6"/>
<ellipse cx="236.9" cy="468.7" rx="2.0" ry="0.9" transform="rotate(-35 236.9 468.7)" fill="rgb(108,90,155)" opacity="0.6"/>
<ellipse cx="215.8" cy="468.8" rx="2.3" ry="0.8" transform="rotate(-51 215.8 468.8)" fill="rgb(108,90,155)" opacity="0.6"/>
<ellipse cx="220.3" cy="425.6" rx="1.6" ry="0.7" transform="rotate(-41 220.3 425.6)" fill="rgb(108,90,155)" opacity="0.6"/>
<ellipse cx="246.3" cy="478.9" rx="1.5" ry="1.0" transform="rotate(-49 246.3 478.9)" fill="rgb(108,90,155)" opacity="0.6"/>
<ellipse cx="216.6" cy="437.6" rx="2.4" ry="1.1" transform="rotate(-68 216.6 437.6)" fill="rgb(108,90,155)" opacity="0.6"/>
<ellipse cx="224.5" cy="417.5" rx="1.4" ry="0.8" transform="rotate(-33 224.5 417.5)" fill="rgb(108,90,155)" opacity="0.6"/>
<ellipse cx="251.4" cy="417.7" rx="1.8" ry="0.7" transform="rotate(-43 251.4 417.7)" fill="rgb(108,90,155)" opacity="0.6"/>
<ellipse cx="202.4" cy="435.9" rx="1.7" ry="1.0" transform="rotate(-28 202.4 435.9)" fill="rgb(108,90,155)" opacity="0.6"/>
<ellipse cx="183.2" cy="437.2" rx="2.1" ry="1.0" transform="rotate(-21 183.2 437.2)" fill="rgb(108,90,155)" opacity="0.6"/>
<ellipse cx="193.4" cy="459.0" rx="2.0" ry="1.0" transform="rotate(-63 193.4 459.0)" fill="rgb(108,90,155)" opacity="0.6"/>
<ellipse cx="172.8" cy="416.7" rx="2.4" ry="0.8" transform="rotate(-46 172.8 416.7)" fill="rgb(108,90,155)" opacity="0.6"/>
<ellipse cx="167.6" cy="432.3" rx="1.4" ry="0.9" transform="rotate(-63 167.6 432.3)" fill="rgb(108,90,155)" opacity="0.6"/>
<ellipse cx="216.0" cy="428.7" rx="1.7" ry="0.9" transform="rotate(-52 216.0 428.7)" fill="rgb(108,90,155)" opacity="0.6"/>
<ellipse cx="180.9" cy="412.7" rx="1.5" ry="1.1" transform="rotate(-55 180.9 412.7)" fill="rgb(108,90,155)" opacity="0.6"/>
<ellipse cx="163.5" cy="422.1" rx="1.9" ry="1.1" transform="rotate(-60 163.5 422.1)" fill="rgb(108,90,155)" opacity="0.6"/>
<ellipse cx="239.3" cy="443.9" rx="1.9" ry="1.0" transform="rotate(-50 239.3 443.9)" fill="rgb(108,90,155)" opacity="0.6"/>
<ellipse cx="161.5" cy="448.6" rx="2.1" ry="0.9" transform="rotate(-56 161.5 448.6)" fill="rgb(108,90,155)" opacity="0.6"/>
<ellipse cx="246.1" cy="471.3" rx="2.5" ry="0.9" transform="rotate(-28 246.1 471.3)" fill="rgb(108,90,155)" opacity="0.6"/>
<ellipse cx="225.6" cy="421.7" rx="1.4" ry="0.8" transform="rotate(-64 225.6 421.7)" fill="rgb(108,90,155)" opacity="0.6"/>
<ellipse cx="163.2" cy="434.8" rx="2.2" ry="0.8" transform="rotate(-44 163.2 434.8)" fill="rgb(108,90,155)" opacity="0.6"/>
<ellipse cx="157.0" cy="424.1" rx="2.5" ry="0.7" transform="rotate(-44 157.0 424.1)" fill="rgb(108,90,155)" opacity="0.6"/>
<ellipse cx="233.8" cy="466.0" rx="2.2" ry="0.9" transform="rotate(-30 233.8 466.0)" fill="rgb(108,90,155)" opacity="0.6"/>
<ellipse cx="235.5" cy="464.3" rx="2.5" ry="0.7" transform="rotate(-22 235.5 464.3)" fill="rgb(108,90,155)" opacity="0.6"/>
<ellipse cx="194.6" cy="459.8" rx="1.7" ry="1.1" transform="rotate(-69 194.6 459.8)" fill="rgb(108,90,155)" opacity="0.6"/>
<ellipse cx="211.4" cy="425.4" rx="1.8" ry="0.8" transform="rotate(-37 211.4 425.4)" fill="rgb(108,90,155)" opacity="0.6"/>
<ellipse cx="233.8" cy="435.3" rx="2.1" ry="0.8" transform="rotate(-56 233.8 435.3)" fill="rgb(108,90,155)" opacity="0.6"/>
<ellipse cx="242.9" cy="432.2" rx="1.5" ry="0.8" transform="rotate(-33 242.9 432.2)" fill="rgb(108,90,155)" opacity="0.6"/>
<ellipse cx="176.3" cy="462.5" rx="2.0" ry="1.0" transform="rotate(-61 176.3 462.5)" fill="rgb(108,90,155)" opacity="0.6"/>
<ellipse cx="166.2" cy="419.3" rx="1.8" ry="0.9" transform="rotate(-70 166.2 419.3)" fill="rgb(108,90,155)" opacity="0.6"/>
<ellipse cx="204.2" cy="438.0" rx="1.8" ry="0.9" transform="rotate(-22 204.2 438.0)" fill="rgb(108,90,155)" opacity="0.6"/>
<ellipse cx="175.6" cy="472.4" rx="1.8" ry="1.0" transform="rotate(-65 175.6 472.4)" fill="rgb(108,90,155)" opacity="0.6"/>
<ellipse cx="250.8" cy="440.0" rx="2.5" ry="0.8" transform="rotate(-50 250.8 440.0)" fill="rgb(108,90,155)" opacity="0.6"/>
<ellipse cx="223.8" cy="421.8" rx="1.7" ry="1.0" transform="rotate(-23 223.8 421.8)" fill="rgb(108,90,155)" opacity="0.6"/>
<ellipse cx="186.9" cy="422.2" rx="1.8" ry="1.1" transform="rotate(-63 186.9 422.2)" fill="rgb(108,90,155)" opacity="0.6"/>
<ellipse cx="216.9" cy="436.2" rx="2.1" ry="0.8" transform="rotate(-39 216.9 436.2)" fill="rgb(108,90,155)" opacity="0.6"/>
<ellipse cx="241.2" cy="470.7" rx="2.1" ry="0.9" transform="rotate(-42 241.2 470.7)" fill="rgb(108,90,155)" opacity="0.6"/>
<ellipse cx="167.0" cy="469.3" rx="2.2" ry="0.9" transform="rotate(-37 167.0 469.3)" fill="rgb(108,90,155)" opacity="0.6"/>
<ellipse cx="196.3" cy="436.7" rx="1.7" ry="0.9" transform="rotate(-41 196.3 436.7)" fill="rgb(108,90,155)" opacity="0.6"/>
<ellipse cx="205.5" cy="411.3" rx="2.1" ry="0.9" transform="rotate(-40 205.5 411.3)" fill="rgb(108,90,155)" opacity="0.6"/>
<ellipse cx="213.1" cy="476.1" rx="1.6" ry="0.9" transform="rotate(-20 213.1 476.1)" fill="rgb(108,90,155)" opacity="0.6"/>
<ellipse cx="226.8" cy="431.5" rx="2.2" ry="1.1" transform="rotate(-50 226.8 431.5)" fill="rgb(108,90,155)" opacity="0.6"/>
<ellipse cx="239.3" cy="418.1" rx="2.5" ry="0.9" transform="rotate(-58 239.3 418.1)" fill="rgb(108,90,155)" opacity="0.6"/>
<ellipse cx="236.7" cy="455.7" rx="2.4" ry="1.0" transform="rotate(-30 236.7 455.7)" fill="rgb(108,90,155)" opacity="0.6"/>
<ellipse cx="205.1" cy="480.5" rx="1.5" ry="1.0" transform="rotate(-34 205.1 480.5)" fill="rgb(108,90,155)" opacity="0.6"/>
<ellipse cx="180.1" cy="467.1" rx="1.9" ry="0.9" transform="rotate(-27 180.1 467.1)" fill="rgb(108,90,155)" opacity="0.6"/>
<ellipse cx="174.8" cy="429.1" rx="2.1" ry="0.7" transform="rotate(-42 174.8 429.1)" fill="rgb(108,90,155)" opacity="0.6"/>
<ellipse cx="231.6" cy="444.3" rx="1.7" ry="1.0" transform="rotate(-27 231.6 444.3)" fill="rgb(108,90,155)" opacity="0.6"/>
<ellipse cx="230.0" cy="448.5" rx="2.4" ry="1.0" transform="rotate(-62 230.0 448.5)" fill="rgb(108,90,155)" opacity="0.6"/>
<ellipse cx="191.1" cy="416.2" rx="1.4" ry="0.8" transform="rotate(-27 191.1 416.2)" fill="rgb(108,90,155)" opacity="0.6"/>
<ellipse cx="236.1" cy="417.5" rx="1.6" ry="0.9" transform="rotate(-28 236.1 417.5)" fill="rgb(108,90,155)" opacity="0.6"/>
<ellipse cx="215.2" cy="473.9" rx="1.5" ry="1.1" transform="rotate(-60 215.2 473.9)" fill="rgb(108,90,155)" opacity="0.6"/>
<ellipse cx="216.4" cy="472.1" rx="2.2" ry="0.8" transform="rotate(-37 216.4 472.1)" fill="rgb(108,90,155)" opacity="0.6"/>
<ellipse cx="197.4" cy="410.1" rx="1.8" ry="0.8" transform="rotate(-39 197.4 410.1)" fill="rgb(108,90,155)" opacity="0.6"/>
<ellipse cx="182.7" cy="452.4" rx="2.2" ry="0.8" transform="rotate(-64 182.7 452.4)" fill="rgb(108,90,155)" opacity="0.6"/>
<ellipse cx="222.6" cy="442.6" rx="1.5" ry="0.7" transform="rotate(-23 222.6 442.6)" fill="rgb(108,90,155)" opacity="0.6"/>
<ellipse cx="214.6" cy="434.7" rx="1.6" ry="1.1" transform="rotate(-35 214.6 434.7)" fill="rgb(108,90,155)" opacity="0.6"/>
<ellipse cx="226.7" cy="434.9" rx="1.7" ry="0.9" transform="rotate(-63 226.7 434.9)" fill="rgb(108,90,155)" opacity="0.6"/>
<ellipse cx="216.6" cy="439.6" rx="2.3" ry="0.9" transform="rotate(-47 216.6 439.6)" fill="rgb(108,90,155)" opacity="0.6"/>
<ellipse cx="204.6" cy="476.8" rx="1.8" ry="1.0" transform="rotate(-58 204.6 476.8)" fill="rgb(108,90,155)" opacity="0.6"/>
<ellipse cx="211.6" cy="429.5" rx="2.4" ry="0.8" transform="rotate(-27 211.6 429.5)" fill="rgb(108,90,155)" opacity="0.6"/>
<ellipse cx="221.0" cy="441.8" rx="2.4" ry="0.9" transform="rotate(-33 221.0 441.8)" fill="rgb(108,90,155)" opacity="0.6"/>
<ellipse cx="213.7" cy="441.3" rx="1.5" ry="0.9" transform="rotate(-56 213.7 441.3)" fill="rgb(108,90,155)" opacity="0.6"/>
<ellipse cx="198.3" cy="477.7" rx="1.7" ry="1.0" transform="rotate(-36 198.3 477.7)" fill="rgb(108,90,155)" opacity="0.6"/>
<ellipse cx="179.5" cy="438.6" rx="1.5" ry="1.1" transform="rotate(-57 179.5 438.6)" fill="rgb(108,90,155)" opacity="0.6"/>
<ellipse cx="196.4" cy="433.6" rx="2.3" ry="1.0" transform="rotate(-40 196.4 433.6)" fill="rgb(108,90,155)" opacity="0.6"/>
<ellipse cx="208.4" cy="416.2" rx="2.4" ry="0.7" transform="rotate(-52 208.4 416.2)" fill="rgb(108,90,155)" opacity="0.6"/>
<ellipse cx="192.0" cy="461.1" rx="2.1" ry="0.8" transform="rotate(-25 192.0 461.1)" fill="rgb(108,90,155)" opacity="0.6"/>
<ellipse cx="247.2" cy="410.7" rx="2.1" ry="0.9" transform="rotate(-52 247.2 410.7)" fill="rgb(108,90,155)" opacity="0.6"/>
<ellipse cx="200.6" cy="431.8" rx="2.1" ry="0.9" transform="rotate(-21 200.6 431.8)" fill="rgb(108,90,155)" opacity="0.6"/>
<ellipse cx="249.7" cy="480.5" rx="1.8" ry="1.0" transform="rotate(-38 249.7 480.5)" fill="rgb(108,90,155)" opacity="0.6"/>
<ellipse cx="223.3" cy="480.8" rx="1.5" ry="0.9" transform="rotate(-50 223.3 480.8)" fill="rgb(108,90,155)" opacity="0.6"/>
<ellipse cx="219.0" cy="424.7" rx="2.5" ry="0.8" transform="rotate(-52 219.0 424.7)" fill="rgb(108,90,155)" opacity="0.6"/>
<ellipse cx="169.7" cy="437.4" rx="2.2" ry="0.7" transform="rotate(-62 169.7 437.4)" fill="rgb(108,90,155)" opacity="0.6"/>
<ellipse cx="218.3" cy="453.9" rx="2.2" ry="0.8" transform="rotate(-29 218.3 453.9)" fill="rgb(108,90,155)" opacity="0.6"/>
<ellipse cx="226.2" cy="464.9" rx="1.5" ry="0.9" transform="rotate(-69 226.2 464.9)" fill="rgb(108,90,155)" opacity="0.6"/>
<ellipse cx="238.5" cy="477.0" rx="2.4" ry="0.7" transform="rotate(-52 238.5 477.0)" fill="rgb(108,90,155)" opacity="0.6"/>
<ellipse cx="207.4" cy="447.4" rx="1.5" ry="1.0" transform="rotate(-55 207.4 447.4)" fill="rgb(108,90,155)" opacity="0.6"/>
<ellipse cx="204.7" cy="418.0" rx="2.0" ry="0.8" transform="rotate(-66 204.7 418.0)" fill="rgb(108,90,155)" opacity="0.6"/>
<ellipse cx="205.2" cy="430.2" rx="2.3" ry="0.8" transform="rotate(-49 205.2 430.2)" fill="rgb(108,90,155)" opacity="0.6"/>
<ellipse cx="161.2" cy="424.7" rx="1.9" ry="0.9" transform="rotate(-47 161.2 424.7)" fill="rgb(108,90,155)" opacity="0.6"/>
<ellipse cx="237.7" cy="416.5" rx="2.3" ry="0.8" transform="rotate(-21 237.7 416.5)" fill="rgb(108,90,155)" opacity="0.6"/>
<ellipse cx="206.4" cy="438.3" rx="2.1" ry="1.0" transform="rotate(-22 206.4 438.3)" fill="rgb(108,90,155)" opacity="0.6"/>
<ellipse cx="195.7" cy="409.8" rx="1.6" ry="1.0" transform="rotate(-33 195.7 409.8)" fill="rgb(108,90,155)" opacity="0.6"/>
<ellipse cx="224.4" cy="420.3" rx="2.0" ry="0.7" transform="rotate(-64 224.4 420.3)" fill="rgb(108,90,155)" opacity="0.6"/>
<ellipse cx="184.9" cy="478.6" rx="2.1" ry="1.0" transform="rotate(-68 184.9 478.6)" fill="rgb(108,90,155)" opacity="0.6"/>
<ellipse cx="195.9" cy="414.6" rx="1.7" ry="0.7" transform="rotate(-24 195.9 414.6)" fill="rgb(108,90,155)" opacity="0.6"/>
<ellipse cx="187.6" cy="444.2" rx="2.1" ry="1.1" transform="rotate(-23 187.6 444.2)" fill="rgb(108,90,155)" opacity="0.6"/>
<ellipse cx="210.5" cy="445.1" rx="2.4" ry="0.9" transform="rotate(-55 210.5 445.1)" fill="rgb(108,90,155)" opacity="0.6"/>
<ellipse cx="227.0" cy="427.6" rx="1.8" ry="0.9" transform="rotate(-46 227.0 427.6)" fill="rgb(108,90,155)" opacity="0.6"/>
<ellipse cx="190.4" cy="440.0" rx="1.9" ry="0.7" transform="rotate(-28 190.4 440.0)" fill="rgb(108,90,155)" opacity="0.6"/>
<ellipse cx="161.9" cy="447.0" rx="2.0" ry="0.9" transform="rotate(-59 161.9 447.0)" fill="rgb(108,90,155)" opacity="0.6"/>
<rect x="155.5" y="408.5" width="96.5" height="73.0" filter="url(#ndl2)"/>
<rect x="155.5" y="408.5" width="96.5" height="73.0" filter="url(#nll2)"/>
<path d="M197,437 C197,431 200,429 204,429 C208,430 209,435 207,440 C204,443 198,446 191,450 C194,446 197,441 197,437Z" fill="#fbf9fc" filter="url(#bl1)"/>
<path d="M223,421 L217,433" stroke="#f0ecf5" stroke-width="1.2" filter="url(#bl1)"/>
<ellipse cx="197.5" cy="441" rx="1.2" ry="2.8" transform="rotate(30 197.5 441)" fill="rgb(205,120,140)" filter="url(#bl1)"/>
</g>
<g clip-path="url(#cl3)">
<rect x="155.5" y="481.5" width="96.5" height="68.5" fill="rgb(186,156,198)"/>
<path d="M191,502 C190,494 198,491 206,492 C215,493 220,500 219,508 C218,515 212,519 205,518 C198,517 192,510 191,502Z" fill="rgb(112,102,176)" filter="url(#bl2)"/>
<path d="M222,522 C226,530 228,538 226,546" stroke="rgb(220,200,225)" stroke-width="2" fill="none" filter="url(#bl1)"/>
<ellipse cx="165.5" cy="507.3" rx="1.7" ry="0.9" transform="rotate(-58 165.5 507.3)" fill="rgb(108,90,155)" opacity="0.6"/>
<ellipse cx="227.9" cy="515.1" rx="1.4" ry="0.9" transform="rotate(-22 227.9 515.1)" fill="rgb(108,90,155)" opacity="0.6"/>
<ellipse cx="156.7" cy="522.3" rx="2.5" ry="0.8" transform="rotate(-40 156.7 522.3)" fill="rgb(108,90,155)" opacity="0.6"/>
<ellipse cx="191.4" cy="502.5" rx="2.1" ry="0.9" transform="rotate(-54 191.4 502.5)" fill="rgb(108,90,155)" opacity="0.6"/>
<ellipse cx="203.8" cy="517.1" rx="2.2" ry="0.7" transform="rotate(-65 203.8 517.1)" fill="rgb(108,90,155)" opacity="0.6"/>
<ellipse cx="180.2" cy="500.4" rx="2.3" ry="0.9" transform="rotate(-27 180.2 500.4)" fill="rgb(108,90,155)" opacity="0.6"/>
<ellipse cx="194.6" cy="501.4" rx="2.1" ry="0.7" transform="rotate(-21 194.6 501.4)" fill="rgb(108,90,155)" opacity="0.6"/>
<ellipse cx="235.8" cy="504.3" rx="1.7" ry="1.0" transform="rotate(-31 235.8 504.3)" fill="rgb(108,90,155)" opacity="0.6"/>
<ellipse cx="217.7" cy="485.9" rx="2.2" ry="0.7" transform="rotate(-39 217.7 485.9)" fill="rgb(108,90,155)" opacity="0.6"/>
<ellipse cx="209.0" cy="545.1" rx="2.1" ry="0.7" transform="rotate(-23 209.0 545.1)" fill="rgb(108,90,155)" opacity="0.6"/>
<ellipse cx="228.3" cy="521.4" rx="1.4" ry="1.0" transform="rotate(-49 228.3 521.4)" fill="rgb(108,90,155)" opacity="0.6"/>
<ellipse cx="221.2" cy="548.9" rx="2.4" ry="0.7" transform="rotate(-31 221.2 548.9)" fill="rgb(108,90,155)" opacity="0.6"/>
<ellipse cx="198.3" cy="533.1" rx="1.8" ry="0.9" transform="rotate(-48 198.3 533.1)" fill="rgb(108,90,155)" opacity="0.6"/>
<ellipse cx="167.3" cy="503.8" rx="2.2" ry="0.7" transform="rotate(-64 167.3 503.8)" fill="rgb(108,90,155)" opacity="0.6"/>
<ellipse cx="236.1" cy="527.3" rx="2.0" ry="0.7" transform="rotate(-64 236.1 527.3)" fill="rgb(108,90,155)" opacity="0.6"/>
<ellipse cx="185.8" cy="546.9" rx="2.0" ry="1.1" transform="rotate(-59 185.8 546.9)" fill="rgb(108,90,155)" opacity="0.6"/>
<ellipse cx="195.8" cy="518.5" rx="2.3" ry="0.7" transform="rotate(-26 195.8 518.5)" fill="rgb(108,90,155)" opacity="0.6"/>
<ellipse cx="201.3" cy="484.1" rx="1.9" ry="0.9" transform="rotate(-36 201.3 484.1)" fill="rgb(108,90,155)" opacity="0.6"/>
<ellipse cx="245.1" cy="515.6" rx="2.2" ry="0.9" transform="rotate(-31 245.1 515.6)" fill="rgb(108,90,155)" opacity="0.6"/>
<ellipse cx="166.1" cy="532.5" rx="1.6" ry="0.9" transform="rotate(-60 166.1 532.5)" fill="rgb(108,90,155)" opacity="0.6"/>
<ellipse cx="189.2" cy="493.1" rx="1.8" ry="0.9" transform="rotate(-44 189.2 493.1)" fill="rgb(108,90,155)" opacity="0.6"/>
<ellipse cx="193.3" cy="521.1" rx="2.3" ry="0.8" transform="rotate(-41 193.3 521.1)" fill="rgb(108,90,155)" opacity="0.6"/>
<ellipse cx="202.1" cy="548.7" rx="1.8" ry="1.0" transform="rotate(-58 202.1 548.7)" fill="rgb(108,90,155)" opacity="0.6"/>
<ellipse cx="181.1" cy="531.7" rx="2.0" ry="0.8" transform="rotate(-67 181.1 531.7)" fill="rgb(108,90,155)" opacity="0.6"/>
<ellipse cx="235.2" cy="507.7" rx="2.2" ry="0.9" transform="rotate(-39 235.2 507.7)" fill="rgb(108,90,155)" opacity="0.6"/>
<ellipse cx="209.7" cy="548.4" rx="2.4" ry="0.9" transform="rotate(-46 209.7 548.4)" fill="rgb(108,90,155)" opacity="0.6"/>
<ellipse cx="178.2" cy="533.2" rx="1.5" ry="0.8" transform="rotate(-28 178.2 533.2)" fill="rgb(108,90,155)" opacity="0.6"/>
<ellipse cx="159.4" cy="529.5" rx="2.0" ry="0.9" transform="rotate(-53 159.4 529.5)" fill="rgb(108,90,155)" opacity="0.6"/>
<ellipse cx="170.5" cy="546.7" rx="2.2" ry="1.0" transform="rotate(-65 170.5 546.7)" fill="rgb(108,90,155)" opacity="0.6"/>
<ellipse cx="231.3" cy="496.9" rx="1.6" ry="0.9" transform="rotate(-40 231.3 496.9)" fill="rgb(108,90,155)" opacity="0.6"/>
<ellipse cx="167.6" cy="534.0" rx="2.0" ry="1.1" transform="rotate(-24 167.6 534.0)" fill="rgb(108,90,155)" opacity="0.6"/>
<ellipse cx="222.2" cy="506.8" rx="2.4" ry="1.0" transform="rotate(-55 222.2 506.8)" fill="rgb(108,90,155)" opacity="0.6"/>
<ellipse cx="238.3" cy="531.4" rx="1.7" ry="0.8" transform="rotate(-69 238.3 531.4)" fill="rgb(108,90,155)" opacity="0.6"/>
<ellipse cx="207.6" cy="499.2" rx="1.7" ry="0.8" transform="rotate(-63 207.6 499.2)" fill="rgb(108,90,155)" opacity="0.6"/>
<ellipse cx="202.5" cy="500.5" rx="1.7" ry="0.8" transform="rotate(-45 202.5 500.5)" fill="rgb(108,90,155)" opacity="0.6"/>
<ellipse cx="239.9" cy="492.9" rx="2.3" ry="1.0" transform="rotate(-40 239.9 492.9)" fill="rgb(108,90,155)" opacity="0.6"/>
<ellipse cx="208.2" cy="531.9" rx="2.0" ry="1.0" transform="rotate(-24 208.2 531.9)" fill="rgb(108,90,155)" opacity="0.6"/>
<ellipse cx="230.4" cy="499.7" rx="1.5" ry="1.1" transform="rotate(-52 230.4 499.7)" fill="rgb(108,90,155)" opacity="0.6"/>
<ellipse cx="231.6" cy="497.9" rx="1.9" ry="0.8" transform="rotate(-34 231.6 497.9)" fill="rgb(108,90,155)" opacity="0.6"/>
<ellipse cx="246.6" cy="516.4" rx="2.0" ry="0.8" transform="rotate(-58 246.6 516.4)" fill="rgb(108,90,155)" opacity="0.6"/>
<ellipse cx="247.2" cy="489.5" rx="2.4" ry="1.0" transform="rotate(-66 247.2 489.5)" fill="rgb(108,90,155)" opacity="0.6"/>
<ellipse cx="242.6" cy="488.9" rx="2.0" ry="0.7" transform="rotate(-21 242.6 488.9)" fill="rgb(108,90,155)" opacity="0.6"/>
<ellipse cx="185.7" cy="541.3" rx="1.5" ry="1.0" transform="rotate(-67 185.7 541.3)" fill="rgb(108,90,155)" opacity="0.6"/>
<ellipse cx="158.8" cy="520.8" rx="2.5" ry="1.0" transform="rotate(-27 158.8 520.8)" fill="rgb(108,90,155)" opacity="0.6"/>
<ellipse cx="231.3" cy="517.4" rx="1.5" ry="0.9" transform="rotate(-61 231.3 517.4)" fill="rgb(108,90,155)" opacity="0.6"/>
<ellipse cx="206.6" cy="506.1" rx="1.9" ry="0.8" transform="rotate(-35 206.6 506.1)" fill="rgb(108,90,155)" opacity="0.6"/>
<ellipse cx="196.1" cy="515.0" rx="1.5" ry="0.9" transform="rotate(-42 196.1 515.0)" fill="rgb(108,90,155)" opacity="0.6"/>
<ellipse cx="249.4" cy="520.2" rx="1.5" ry="0.8" transform="rotate(-53 249.4 520.2)" fill="rgb(108,90,155)" opacity="0.6"/>
<ellipse cx="223.4" cy="545.8" rx="2.5" ry="1.1" transform="rotate(-24 223.4 545.8)" fill="rgb(108,90,155)" opacity="0.6"/>
<ellipse cx="238.4" cy="545.6" rx="1.4" ry="0.9" transform="rotate(-40 238.4 545.6)" fill="rgb(108,90,155)" opacity="0.6"/>
<ellipse cx="221.8" cy="523.7" rx="2.1" ry="1.1" transform="rotate(-66 221.8 523.7)" fill="rgb(108,90,155)" opacity="0.6"/>
<ellipse cx="205.8" cy="547.2" rx="1.4" ry="0.7" transform="rotate(-27 205.8 547.2)" fill="rgb(108,90,155)" opacity="0.6"/>
<ellipse cx="247.9" cy="483.6" rx="1.4" ry="1.0" transform="rotate(-36 247.9 483.6)" fill="rgb(108,90,155)" opacity="0.6"/>
<ellipse cx="205.9" cy="521.4" rx="2.2" ry="1.0" transform="rotate(-70 205.9 521.4)" fill="rgb(108,90,155)" opacity="0.6"/>
<ellipse cx="162.5" cy="536.0" rx="2.5" ry="1.0" transform="rotate(-50 162.5 536.0)" fill="rgb(108,90,155)" opacity="0.6"/>
<ellipse cx="188.2" cy="505.6" rx="1.4" ry="1.0" transform="rotate(-57 188.2 505.6)" fill="rgb(108,90,155)" opacity="0.6"/>
<ellipse cx="212.2" cy="517.8" rx="1.8" ry="1.0" transform="rotate(-47 212.2 517.8)" fill="rgb(108,90,155)" opacity="0.6"/>
<ellipse cx="178.5" cy="542.0" rx="1.6" ry="0.8" transform="rotate(-57 178.5 542.0)" fill="rgb(108,90,155)" opacity="0.6"/>
<ellipse cx="202.0" cy="535.3" rx="1.8" ry="0.8" transform="rotate(-37 202.0 535.3)" fill="rgb(108,90,155)" opacity="0.6"/>
<ellipse cx="181.0" cy="517.5" rx="1.7" ry="1.1" transform="rotate(-61 181.0 517.5)" fill="rgb(108,90,155)" opacity="0.6"/>
<ellipse cx="178.3" cy="502.5" rx="1.8" ry="1.0" transform="rotate(-36 178.3 502.5)" fill="rgb(108,90,155)" opacity="0.6"/>
<ellipse cx="231.9" cy="518.7" rx="1.5" ry="1.0" transform="rotate(-58 231.9 518.7)" fill="rgb(108,90,155)" opacity="0.6"/>
<ellipse cx="176.9" cy="510.2" rx="2.5" ry="0.8" transform="rotate(-52 176.9 510.2)" fill="rgb(108,90,155)" opacity="0.6"/>
<ellipse cx="243.5" cy="549.4" rx="1.8" ry="0.8" transform="rotate(-31 243.5 549.4)" fill="rgb(108,90,155)" opacity="0.6"/>
<ellipse cx="231.1" cy="505.0" rx="2.3" ry="0.9" transform="rotate(-56 231.1 505.0)" fill="rgb(108,90,155)" opacity="0.6"/>
<ellipse cx="213.0" cy="532.4" rx="1.9" ry="1.0" transform="rotate(-69 213.0 532.4)" fill="rgb(108,90,155)" opacity="0.6"/>
<ellipse cx="203.9" cy="507.9" rx="1.5" ry="1.1" transform="rotate(-63 203.9 507.9)" fill="rgb(108,90,155)" opacity="0.6"/>
<ellipse cx="175.7" cy="541.7" rx="2.5" ry="1.1" transform="rotate(-53 175.7 541.7)" fill="rgb(108,90,155)" opacity="0.6"/>
<ellipse cx="245.4" cy="491.6" rx="2.2" ry="1.1" transform="rotate(-60 245.4 491.6)" fill="rgb(108,90,155)" opacity="0.6"/>
<ellipse cx="169.0" cy="528.1" rx="2.4" ry="1.0" transform="rotate(-23 169.0 528.1)" fill="rgb(108,90,155)" opacity="0.6"/>
<ellipse cx="199.6" cy="507.3" rx="1.5" ry="0.8" transform="rotate(-23 199.6 507.3)" fill="rgb(108,90,155)" opacity="0.6"/>
<ellipse cx="162.9" cy="494.6" rx="1.8" ry="0.7" transform="rotate(-55 162.9 494.6)" fill="rgb(108,90,155)" opacity="0.6"/>
<ellipse cx="173.6" cy="490.3" rx="2.0" ry="0.9" transform="rotate(-42 173.6 490.3)" fill="rgb(108,90,155)" opacity="0.6"/>
<ellipse cx="229.2" cy="517.8" rx="2.4" ry="0.7" transform="rotate(-59 229.2 517.8)" fill="rgb(108,90,155)" opacity="0.6"/>
<ellipse cx="163.4" cy="503.0" rx="2.2" ry="1.1" transform="rotate(-45 163.4 503.0)" fill="rgb(108,90,155)" opacity="0.6"/>
<ellipse cx="171.4" cy="504.5" rx="2.0" ry="0.8" transform="rotate(-30 171.4 504.5)" fill="rgb(108,90,155)" opacity="0.6"/>
<ellipse cx="249.4" cy="513.3" rx="2.1" ry="1.0" transform="rotate(-47 249.4 513.3)" fill="rgb(108,90,155)" opacity="0.6"/>
<ellipse cx="174.3" cy="546.2" rx="2.5" ry="0.7" transform="rotate(-32 174.3 546.2)" fill="rgb(108,90,155)" opacity="0.6"/>
<ellipse cx="194.5" cy="485.5" rx="1.6" ry="0.8" transform="rotate(-33 194.5 485.5)" fill="rgb(108,90,155)" opacity="0.6"/>
<ellipse cx="176.3" cy="483.3" rx="1.6" ry="1.0" transform="rotate(-45 176.3 483.3)" fill="rgb(108,90,155)" opacity="0.6"/>
<ellipse cx="218.7" cy="513.6" rx="1.6" ry="0.7" transform="rotate(-55 218.7 513.6)" fill="rgb(108,90,155)" opacity="0.6"/>
<ellipse cx="160.0" cy="499.7" rx="2.1" ry="0.8" transform="rotate(-46 160.0 499.7)" fill="rgb(108,90,155)" opacity="0.6"/>
<ellipse cx="215.9" cy="503.6" rx="1.8" ry="1.1" transform="rotate(-41 215.9 503.6)" fill="rgb(108,90,155)" opacity="0.6"/>
<ellipse cx="196.0" cy="518.7" rx="1.9" ry="0.8" transform="rotate(-24 196.0 518.7)" fill="rgb(108,90,155)" opacity="0.6"/>
<ellipse cx="178.4" cy="545.6" rx="2.3" ry="1.1" transform="rotate(-62 178.4 545.6)" fill="rgb(108,90,155)" opacity="0.6"/>
<ellipse cx="204.8" cy="548.9" rx="1.7" ry="0.8" transform="rotate(-34 204.8 548.9)" fill="rgb(108,90,155)" opacity="0.6"/>
<ellipse cx="178.6" cy="521.7" rx="1.6" ry="1.1" transform="rotate(-56 178.6 521.7)" fill="rgb(108,90,155)" opacity="0.6"/>
<ellipse cx="165.3" cy="528.7" rx="1.8" ry="0.9" transform="rotate(-45 165.3 528.7)" fill="rgb(108,90,155)" opacity="0.6"/>
<ellipse cx="244.6" cy="517.0" rx="1.8" ry="0.7" transform="rotate(-45 244.6 517.0)" fill="rgb(108,90,155)" opacity="0.6"/>
<ellipse cx="181.8" cy="521.0" rx="2.1" ry="0.9" transform="rotate(-66 181.8 521.0)" fill="rgb(108,90,155)" opacity="0.6"/>
<ellipse cx="203.8" cy="514.8" rx="2.1" ry="1.1" transform="rotate(-56 203.8 514.8)" fill="rgb(108,90,155)" opacity="0.6"/>
<ellipse cx="198.5" cy="487.8" rx="2.3" ry="0.8" transform="rotate(-29 198.5 487.8)" fill="rgb(108,90,155)" opacity="0.6"/>
<ellipse cx="232.6" cy="499.3" rx="2.4" ry="0.9" transform="rotate(-49 232.6 499.3)" fill="rgb(108,90,155)" opacity="0.6"/>
<ellipse cx="209.3" cy="546.3" rx="1.9" ry="0.9" transform="rotate(-55 209.3 546.3)" fill="rgb(108,90,155)" opacity="0.6"/>
<ellipse cx="236.7" cy="516.2" rx="1.8" ry="0.8" transform="rotate(-59 236.7 516.2)" fill="rgb(108,90,155)" opacity="0.6"/>
<ellipse cx="236.1" cy="536.6" rx="2.5" ry="1.1" transform="rotate(-36 236.1 536.6)" fill="rgb(108,90,155)" opacity="0.6"/>
<ellipse cx="232.6" cy="530.4" rx="2.3" ry="1.0" transform="rotate(-61 232.6 530.4)" fill="rgb(108,90,155)" opacity="0.6"/>
<ellipse cx="234.2" cy="502.6" rx="1.7" ry="1.1" transform="rotate(-69 234.2 502.6)" fill="rgb(108,90,155)" opacity="0.6"/>
<ellipse cx="205.1" cy="505.3" rx="2.3" ry="0.9" transform="rotate(-24 205.1 505.3)" fill="rgb(108,90,155)" opacity="0.6"/>
<ellipse cx="245.5" cy="525.8" rx="1.5" ry="1.0" transform="rotate(-65 245.5 525.8)" fill="rgb(108,90,155)" opacity="0.6"/>
<ellipse cx="250.3" cy="541.3" rx="1.7" ry="0.8" transform="rotate(-35 250.3 541.3)" fill="rgb(108,90,155)" opacity="0.6"/>
<ellipse cx="228.8" cy="549.0" rx="2.1" ry="0.8" transform="rotate(-34 228.8 549.0)" fill="rgb(108,90,155)" opacity="0.6"/>
<ellipse cx="161.6" cy="541.0" rx="2.2" ry="1.0" transform="rotate(-26 161.6 541.0)" fill="rgb(108,90,155)" opacity="0.6"/>
<ellipse cx="210.6" cy="546.2" rx="2.1" ry="0.9" transform="rotate(-51 210.6 546.2)" fill="rgb(108,90,155)" opacity="0.6"/>
<ellipse cx="189.9" cy="483.6" rx="1.6" ry="1.0" transform="rotate(-59 189.9 483.6)" fill="rgb(108,90,155)" opacity="0.6"/>
<ellipse cx="218.7" cy="534.7" rx="2.2" ry="0.9" transform="rotate(-54 218.7 534.7)" fill="rgb(108,90,155)" opacity="0.6"/>
<ellipse cx="182.2" cy="494.7" rx="2.1" ry="1.0" transform="rotate(-23 182.2 494.7)" fill="rgb(108,90,155)" opacity="0.6"/>
<ellipse cx="187.7" cy="545.0" rx="2.4" ry="0.8" transform="rotate(-22 187.7 545.0)" fill="rgb(108,90,155)" opacity="0.6"/>
<ellipse cx="215.5" cy="547.5" rx="2.3" ry="0.8" transform="rotate(-56 215.5 547.5)" fill="rgb(108,90,155)" opacity="0.6"/>
<ellipse cx="206.2" cy="515.2" rx="1.4" ry="1.0" transform="rotate(-43 206.2 515.2)" fill="rgb(108,90,155)" opacity="0.6"/>
<ellipse cx="201.4" cy="532.6" rx="1.7" ry="0.8" transform="rotate(-41 201.4 532.6)" fill="rgb(108,90,155)" opacity="0.6"/>
<ellipse cx="179.2" cy="504.3" rx="1.5" ry="0.7" transform="rotate(-52 179.2 504.3)" fill="rgb(108,90,155)" opacity="0.6"/>
<ellipse cx="206.6" cy="546.5" rx="2.1" ry="0.9" transform="rotate(-50 206.6 546.5)" fill="rgb(108,90,155)" opacity="0.6"/>
<ellipse cx="178.6" cy="514.2" rx="2.5" ry="0.7" transform="rotate(-48 178.6 514.2)" fill="rgb(108,90,155)" opacity="0.6"/>
<ellipse cx="221.8" cy="533.8" rx="2.0" ry="1.0" transform="rotate(-23 221.8 533.8)" fill="rgb(108,90,155)" opacity="0.6"/>
<ellipse cx="242.6" cy="499.1" rx="2.0" ry="1.1" transform="rotate(-44 242.6 499.1)" fill="rgb(108,90,155)" opacity="0.6"/>
<ellipse cx="174.2" cy="534.1" rx="1.5" ry="0.8" transform="rotate(-42 174.2 534.1)" fill="rgb(108,90,155)" opacity="0.6"/>
<ellipse cx="182.2" cy="530.9" rx="2.2" ry="0.8" transform="rotate(-32 182.2 530.9)" fill="rgb(108,90,155)" opacity="0.6"/>
<ellipse cx="218.2" cy="530.0" rx="1.9" ry="0.9" transform="rotate(-65 218.2 530.0)" fill="rgb(108,90,155)" opacity="0.6"/>
<ellipse cx="201.6" cy="546.9" rx="2.4" ry="0.7" transform="rotate(-66 201.6 546.9)" fill="rgb(108,90,155)" opacity="0.6"/>
<ellipse cx="181.9" cy="529.2" rx="1.9" ry="0.8" transform="rotate(-49 181.9 529.2)" fill="rgb(108,90,155)" opacity="0.6"/>
<ellipse cx="211.0" cy="532.6" rx="1.8" ry="1.0" transform="rotate(-36 211.0 532.6)" fill="rgb(108,90,155)" opacity="0.6"/>
<ellipse cx="215.1" cy="485.2" rx="2.2" ry="0.8" transform="rotate(-67 215.1 485.2)" fill="rgb(108,90,155)" opacity="0.6"/>
<ellipse cx="201.5" cy="483.1" rx="1.5" ry="0.9" transform="rotate(-47 201.5 483.1)" fill="rgb(108,90,155)" opacity="0.6"/>
<ellipse cx="166.1" cy="546.9" rx="2.3" ry="0.9" transform="rotate(-41 166.1 546.9)" fill="rgb(108,90,155)" opacity="0.6"/>
<ellipse cx="186.3" cy="548.9" rx="1.5" ry="0.8" transform="rotate(-59 186.3 548.9)" fill="rgb(108,90,155)" opacity="0.6"/>
<ellipse cx="239.1" cy="516.6" rx="1.9" ry="0.9" transform="rotate(-26 239.1 516.6)" fill="rgb(108,90,155)" opacity="0.6"/>
<ellipse cx="180.7" cy="535.8" rx="2.2" ry="0.9" transform="rotate(-52 180.7 535.8)" fill="rgb(108,90,155)" opacity="0.6"/>
<ellipse cx="197.9" cy="512.8" rx="1.7" ry="0.9" transform="rotate(-49 197.9 512.8)" fill="rgb(108,90,155)" opacity="0.6"/>
<ellipse cx="185.2" cy="534.5" rx="1.9" ry="0.9" transform="rotate(-26 185.2 534.5)" fill="rgb(108,90,155)" opacity="0.6"/>
<ellipse cx="199.6" cy="507.6" rx="2.4" ry="1.1" transform="rotate(-31 199.6 507.6)" fill="rgb(108,90,155)" opacity="0.6"/>
<ellipse cx="194.5" cy="527.6" rx="2.2" ry="0.8" transform="rotate(-34 194.5 527.6)" fill="rgb(108,90,155)" opacity="0.6"/>
<ellipse cx="247.2" cy="526.6" rx="2.1" ry="0.9" transform="rotate(-37 247.2 526.6)" fill="rgb(108,90,155)" opacity="0.6"/>
<ellipse cx="177.7" cy="534.4" rx="2.0" ry="1.1" transform="rotate(-53 177.7 534.4)" fill="rgb(108,90,155)" opacity="0.6"/>
<ellipse cx="224.3" cy="483.1" rx="1.9" ry="1.0" transform="rotate(-57 224.3 483.1)" fill="rgb(108,90,155)" opacity="0.6"/>
<ellipse cx="214.9" cy="497.0" rx="1.8" ry="1.1" transform="rotate(-60 214.9 497.0)" fill="rgb(108,90,155)" opacity="0.6"/>
<ellipse cx="243.6" cy="486.1" rx="2.0" ry="1.0" transform="rotate(-28 243.6 486.1)" fill="rgb(108,90,155)" opacity="0.6"/>
<ellipse cx="193.6" cy="522.1" rx="2.2" ry="1.0" transform="rotate(-33 193.6 522.1)" fill="rgb(108,90,155)" opacity="0.6"/>
<ellipse cx="211.6" cy="499.1" rx="2.2" ry="0.9" transform="rotate(-43 211.6 499.1)" fill="rgb(108,90,155)" opacity="0.6"/>
<ellipse cx="250.8" cy="491.3" rx="2.3" ry="0.8" transform="rotate(-34 250.8 491.3)" fill="rgb(108,90,155)" opacity="0.6"/>
<ellipse cx="247.2" cy="500.7" rx="2.0" ry="0.9" transform="rotate(-45 247.2 500.7)" fill="rgb(108,90,155)" opacity="0.6"/>
<ellipse cx="172.0" cy="524.5" rx="2.4" ry="1.0" transform="rotate(-56 172.0 524.5)" fill="rgb(108,90,155)" opacity="0.6"/>
<ellipse cx="233.4" cy="510.6" rx="1.6" ry="0.9" transform="rotate(-47 233.4 510.6)" fill="rgb(108,90,155)" opacity="0.6"/>
<ellipse cx="206.9" cy="549.4" rx="2.0" ry="1.1" transform="rotate(-52 206.9 549.4)" fill="rgb(108,90,155)" opacity="0.6"/>
<ellipse cx="228.9" cy="487.1" rx="1.7" ry="1.0" transform="rotate(-35 228.9 487.1)" fill="rgb(108,90,155)" opacity="0.6"/>
<ellipse cx="235.5" cy="507.9" rx="1.7" ry="0.8" transform="rotate(-43 235.5 507.9)" fill="rgb(108,90,155)" opacity="0.6"/>
<ellipse cx="158.3" cy="507.5" rx="2.1" ry="0.8" transform="rotate(-54 158.3 507.5)" fill="rgb(108,90,155)" opacity="0.6"/>
<ellipse cx="239.8" cy="545.5" rx="1.7" ry="0.8" transform="rotate(-64 239.8 545.5)" fill="rgb(108,90,155)" opacity="0.6"/>
<ellipse cx="164.2" cy="536.0" rx="2.2" ry="0.8" transform="rotate(-46 164.2 536.0)" fill="rgb(108,90,155)" opacity="0.6"/>
<ellipse cx="222.8" cy="483.9" rx="2.3" ry="1.0" transform="rotate(-59 222.8 483.9)" fill="rgb(108,90,155)" opacity="0.6"/>
<ellipse cx="223.5" cy="529.6" rx="1.8" ry="1.1" transform="rotate(-59 223.5 529.6)" fill="rgb(108,90,155)" opacity="0.6"/>
<ellipse cx="201.5" cy="503.3" rx="1.9" ry="1.0" transform="rotate(-42 201.5 503.3)" fill="rgb(108,90,155)" opacity="0.6"/>
<ellipse cx="214.5" cy="549.1" rx="1.6" ry="0.8" transform="rotate(-39 214.5 549.1)" fill="rgb(108,90,155)" opacity="0.6"/>
<ellipse cx="170.4" cy="547.6" rx="1.8" ry="0.9" transform="rotate(-48 170.4 547.6)" fill="rgb(108,90,155)" opacity="0.6"/>
<ellipse cx="235.5" cy="544.2" rx="2.1" ry="0.8" transform="rotate(-52 235.5 544.2)" fill="rgb(108,90,155)" opacity="0.6"/>
<ellipse cx="223.8" cy="496.7" rx="2.4" ry="1.0" transform="rotate(-59 223.8 496.7)" fill="rgb(108,90,155)" opacity="0.6"/>
<ellipse cx="191.0" cy="497.6" rx="2.2" ry="0.7" transform="rotate(-35 191.0 497.6)" fill="rgb(108,90,155)" opacity="0.6"/>
<ellipse cx="162.0" cy="539.2" rx="2.0" ry="0.9" transform="rotate(-65 162.0 539.2)" fill="rgb(108,90,155)" opacity="0.6"/>
<ellipse cx="160.2" cy="506.0" rx="2.5" ry="0.9" transform="rotate(-27 160.2 506.0)" fill="rgb(108,90,155)" opacity="0.6"/>
<ellipse cx="162.0" cy="488.9" rx="1.4" ry="1.0" transform="rotate(-61 162.0 488.9)" fill="rgb(108,90,155)" opacity="0.6"/>
<ellipse cx="182.2" cy="527.4" rx="2.2" ry="0.8" transform="rotate(-47 182.2 527.4)" fill="rgb(108,90,155)" opacity="0.6"/>
<ellipse cx="183.7" cy="520.2" rx="1.8" ry="0.8" transform="rotate(-58 183.7 520.2)" fill="rgb(108,90,155)" opacity="0.6"/>
<ellipse cx="184.0" cy="499.7" rx="1.4" ry="0.8" transform="rotate(-40 184.0 499.7)" fill="rgb(108,90,155)" opacity="0.6"/>
<ellipse cx="181.8" cy="489.7" rx="2.3" ry="0.9" transform="rotate(-44 181.8 489.7)" fill="rgb(108,90,155)" opacity="0.6"/>
<ellipse cx="185.9" cy="542.3" rx="2.2" ry="0.9" transform="rotate(-37 185.9 542.3)" fill="rgb(108,90,155)" opacity="0.6"/>
<ellipse cx="222.5" cy="516.0" rx="1.9" ry="0.9" transform="rotate(-45 222.5 516.0)" fill="rgb(108,90,155)" opacity="0.6"/>
<ellipse cx="201.0" cy="518.0" rx="2.0" ry="1.0" transform="rotate(-25 201.0 518.0)" fill="rgb(108,90,155)" opacity="0.6"/>
<ellipse cx="177.5" cy="483.5" rx="1.7" ry="0.7" transform="rotate(-30 177.5 483.5)" fill="rgb(108,90,155)" opacity="0.6"/>
<ellipse cx="215.6" cy="501.4" rx="1.6" ry="1.0" transform="rotate(-28 215.6 501.4)" fill="rgb(108,90,155)" opacity="0.6"/>
<ellipse cx="221.6" cy="529.0" rx="2.2" ry="0.9" transform="rotate(-50 221.6 529.0)" fill="rgb(108,90,155)" opacity="0.6"/>
<ellipse cx="209.1" cy="541.9" rx="2.5" ry="1.1" transform="rotate(-28 209.1 541.9)" fill="rgb(108,90,155)" opacity="0.6"/>
<ellipse cx="163.1" cy="498.8" rx="2.5" ry="0.9" transform="rotate(-44 163.1 498.8)" fill="rgb(108,90,155)" opacity="0.6"/>
<ellipse cx="185.7" cy="540.6" rx="2.0" ry="1.1" transform="rotate(-66 185.7 540.6)" fill="rgb(108,90,155)" opacity="0.6"/>
<ellipse cx="251.4" cy="482.9" rx="1.6" ry="0.9" transform="rotate(-38 251.4 482.9)" fill="rgb(108,90,155)" opacity="0.6"/>
<ellipse cx="166.6" cy="520.2" rx="2.4" ry="0.9" transform="rotate(-32 166.6 520.2)" fill="rgb(108,90,155)" opacity="0.6"/>
<ellipse cx="212.8" cy="521.6" rx="1.6" ry="0.9" transform="rotate(-25 212.8 521.6)" fill="rgb(108,90,155)" opacity="0.6"/>
<ellipse cx="220.7" cy="496.7" rx="1.9" ry="0.9" transform="rotate(-53 220.7 496.7)" fill="rgb(108,90,155)" opacity="0.6"/>
<ellipse cx="211.5" cy="524.9" rx="1.4" ry="0.8" transform="rotate(-37 211.5 524.9)" fill="rgb(108,90,155)" opacity="0.6"/>
<ellipse cx="176.6" cy="486.9" rx="2.2" ry="0.8" transform="rotate(-22 176.6 486.9)" fill="rgb(108,90,155)" opacity="0.6"/>
<ellipse cx="209.6" cy="488.9" rx="2.1" ry="0.8" transform="rotate(-29 209.6 488.9)" fill="rgb(108,90,155)" opacity="0.6"/>
<ellipse cx="225.5" cy="533.6" rx="1.5" ry="0.7" transform="rotate(-30 225.5 533.6)" fill="rgb(108,90,155)" opacity="0.6"/>
<ellipse cx="169.5" cy="495.7" rx="1.4" ry="0.8" transform="rotate(-46 169.5 495.7)" fill="rgb(108,90,155)" opacity="0.6"/>
<ellipse cx="248.0" cy="503.8" rx="1.7" ry="1.0" transform="rotate(-61 248.0 503.8)" fill="rgb(108,90,155)" opacity="0.6"/>
<ellipse cx="217.0" cy="523.8" rx="2.4" ry="0.7" transform="rotate(-42 217.0 523.8)" fill="rgb(108,90,155)" opacity="0.6"/>
<ellipse cx="192.8" cy="538.0" rx="1.7" ry="1.0" transform="rotate(-61 192.8 538.0)" fill="rgb(108,90,155)" opacity="0.6"/>
<ellipse cx="203.5" cy="547.8" rx="1.7" ry="0.8" transform="rotate(-24 203.5 547.8)" fill="rgb(108,90,155)" opacity="0.6"/>
<ellipse cx="220.7" cy="486.5" rx="1.6" ry="0.8" transform="rotate(-56 220.7 486.5)" fill="rgb(108,90,155)" opacity="0.6"/>
<ellipse cx="237.1" cy="529.6" rx="2.5" ry="1.0" transform="rotate(-39 237.1 529.6)" fill="rgb(108,90,155)" opacity="0.6"/>
<ellipse cx="192.8" cy="530.8" rx="1.9" ry="0.7" transform="rotate(-45 192.8 530.8)" fill="rgb(108,90,155)" opacity="0.6"/>
<ellipse cx="192.9" cy="518.1" rx="1.5" ry="0.7" transform="rotate(-21 192.9 518.1)" fill="rgb(108,90,155)" opacity="0.6"/>
<ellipse cx="191.6" cy="504.4" rx="1.6" ry="0.9" transform="rotate(-24 191.6 504.4)" fill="rgb(108,90,155)" opacity="0.6"/>
<ellipse cx="173.3" cy="516.0" rx="1.9" ry="1.0" transform="rotate(-42 173.3 516.0)" fill="rgb(108,90,155)" opacity="0.6"/>
<ellipse cx="178.9" cy="494.9" rx="2.2" ry="0.7" transform="rotate(-27 178.9 494.9)" fill="rgb(108,90,155)" opacity="0.6"/>
<ellipse cx="159.2" cy="494.9" rx="1.9" ry="1.0" transform="rotate(-39 159.2 494.9)" fill="rgb(108,90,155)" opacity="0.6"/>
<ellipse cx="227.6" cy="533.7" rx="2.2" ry="0.7" transform="rotate(-29 227.6 533.7)" fill="rgb(108,90,155)" opacity="0.6"/>
<ellipse cx="170.2" cy="493.0" rx="1.4" ry="0.7" transform="rotate(-26 170.2 493.0)" fill="rgb(108,90,155)" opacity="0.6"/>
<ellipse cx="192.6" cy="487.9" rx="1.5" ry="1.0" transform="rotate(-40 192.6 487.9)" fill="rgb(108,90,155)" opacity="0.6"/>
<ellipse cx="244.0" cy="484.5" rx="1.5" ry="0.8" transform="rotate(-60 244.0 484.5)" fill="rgb(108,90,155)" opacity="0.6"/>
<ellipse cx="166.8" cy="495.6" rx="2.1" ry="0.8" transform="rotate(-62 166.8 495.6)" fill="rgb(108,90,155)" opacity="0.6"/>
<ellipse cx="207.4" cy="507.5" rx="1.6" ry="0.9" transform="rotate(-45 207.4 507.5)" fill="rgb(108,90,155)" opacity="0.6"/>
<rect x="155.5" y="481.5" width="96.5" height="68.5" filter="url(#ndl3)"/>
<rect x="155.5" y="481.5" width="96.5" height="68.5" filter="url(#nll3)"/>
<text x="208.5" y="524" font-size="11" font-weight="bold" text-anchor="middle" fill="#000">*</text>
</g>
<g stroke="#2a2030" stroke-width="1.2">
<path d="M59,336.5 H252"/>
<path d="M59,408.5 H252"/>
<path d="M59,481.5 H252"/>
<path d="M155.5,264 V550"/>
</g>
<g stroke="#222" stroke-width="1.4" fill="none">
<path d="M320,290.5 V418.5 H512.5"/>
<path d="M316.5,418.5 H320"/>
<path d="M316.5,386.5 H320"/>
<path d="M316.5,354.5 H320"/>
<path d="M316.5,322.5 H320"/>
<path d="M316.5,290.5 H320"/>
</g>
<text x="316.2" y="421.4" font-size="10.2" font-weight="bold" text-anchor="end">0</text>
<text x="316.2" y="389.4" font-size="10.2" font-weight="bold" text-anchor="end">1</text>
<text x="316.2" y="357.4" font-size="10.2" font-weight="bold" text-anchor="end">2</text>
<text x="316.2" y="325.4" font-size="10.2" font-weight="bold" text-anchor="end">3</text>
<text x="316.2" y="293.4" font-size="10.2" font-weight="bold" text-anchor="end">4</text>
<text transform="translate(283.1,358.7) rotate(-90)" font-size="12.95" text-anchor="middle">Pathology Score</text>
<text x="342.9" y="435.2" font-size="12.5" text-anchor="middle">Liver</text>
<text x="411.5" y="435.2" font-size="12.5" text-anchor="middle">Colon</text>
<text x="482.8" y="435.2" font-size="12.5" text-anchor="middle">Small Bowel</text>
<rect x="327" y="378.5" width="10" height="40.0" fill="url(#pl)" stroke="#111" stroke-width="1.3"/>
<path d="M332.0,378.5 V370.5 M329.0,370.5 H335.0" stroke="#111" stroke-width="1"/>
<rect x="341" y="359.9" width="10" height="58.6" fill="#7a7a7a" stroke="#111" stroke-width="1.3"/>
<path d="M346.0,359.9 V344.9 M343.0,344.9 H349.0" stroke="#111" stroke-width="1"/>
<rect x="355" y="407.9" width="10" height="10.6" fill="url(#pc)" stroke="#111" stroke-width="1.3"/>
<path d="M360.0,407.9 V401.5 M357.0,401.5 H363.0" stroke="#111" stroke-width="1"/>
<rect x="369" y="416.9" width="14" height="1.6" fill="#000"/>
<rect x="391.2" y="330.5" width="10" height="88.0" fill="url(#pl)" stroke="#111" stroke-width="1.3"/>
<path d="M396.2,330.5 V300.1 M393.2,300.1 H399.2" stroke="#111" stroke-width="1"/>
<rect x="405.2" y="371.1" width="10" height="47.4" fill="#7a7a7a" stroke="#111" stroke-width="1.3"/>
<path d="M410.2,371.1 V353.5 M407.2,353.5 H413.2" stroke="#111" stroke-width="1"/>
<rect x="419.2" y="397.7" width="10" height="20.8" fill="url(#pc)" stroke="#111" stroke-width="1.3"/>
<path d="M424.2,397.7 V386.5 M421.2,386.5 H427.2" stroke="#111" stroke-width="1"/>
<rect x="433.2" y="416.9" width="14" height="1.6" fill="#000"/>
<rect x="456" y="346.5" width="10" height="72.0" fill="url(#pl)" stroke="#111" stroke-width="1.3"/>
<path d="M461.0,346.5 V331.1 M458.0,331.1 H464.0" stroke="#111" stroke-width="1"/>
<rect x="470" y="376.6" width="10" height="41.9" fill="#7a7a7a" stroke="#111" stroke-width="1.3"/>
<path d="M475.0,376.6 V365.1 M472.0,365.1 H478.0" stroke="#111" stroke-width="1"/>
<rect x="484" y="397.7" width="10" height="20.8" fill="url(#pc)" stroke="#111" stroke-width="1.3"/>
<path d="M489.0,397.7 V383.9 M486.0,383.9 H492.0" stroke="#111" stroke-width="1"/>
<rect x="498" y="416.9" width="14" height="1.6" fill="#000"/>
<path d="M327,296.3 V290.8 H368.8 V296.3" stroke="#222" stroke-width="1.1" fill="none"/>
<text x="327.5" y="285.5" font-size="11.2"><tspan font-style="italic">P</tspan> = .006</text>
<path d="M344,342.5 V337 H380.4 V342.5" stroke="#222" stroke-width="1.1" fill="none"/>
<text x="342" y="331.7" font-size="11.2"><tspan font-style="italic">P</tspan> = .009</text>
<path d="M357,381.5 V376 H377 V381.5" stroke="#222" stroke-width="1.1" fill="none"/>
<text x="353" y="370.7" font-size="11.2"><tspan font-style="italic">P</tspan> = ns</text>
<path d="M393,296.3 V290.8 H435.4 V296.3" stroke="#222" stroke-width="1.1" fill="none"/>
<text x="394.4" y="285.5" font-size="11.2"><tspan font-style="italic">P</tspan> = .02</text>
<path d="M407.4,342.5 V337 H441.2 V342.5" stroke="#222" stroke-width="1.1" fill="none"/>
<text x="407.4" y="331.7" font-size="11.2"><tspan font-style="italic">P</tspan> = .02</text>
<path d="M421.3,381.7 V376.2 H442.6 V381.7" stroke="#222" stroke-width="1.1" fill="none"/>
<text x="418.4" y="370.9" font-size="11.2"><tspan font-style="italic">P</tspan> = ns</text>
<path d="M459.4,296.3 V290.8 H502.7 V296.3" stroke="#222" stroke-width="1.1" fill="none"/>
<text x="459.4" y="285.5" font-size="11.2"><tspan font-style="italic">P</tspan> = .006</text>
<path d="M471.8,342.5 V337 H509 V342.5" stroke="#222" stroke-width="1.1" fill="none"/>
<text x="469" y="331.7" font-size="11.2"><tspan font-style="italic">P</tspan> = .008</text>
<path d="M487.4,381.5 V376 H509 V381.5" stroke="#222" stroke-width="1.1" fill="none"/>
<text x="483.3" y="370.7" font-size="11.2"><tspan font-style="italic">P</tspan> = ns</text>
<text x="286" y="450.8" font-size="11.6" xml:space="preserve">TCD BM + Total  CD8<tspan font-size="8" dy="-4.5">+</tspan><tspan dy="4.5"> T</tspan></text>
<rect x="272.5" y="442.5" width="10" height="9.5" fill="url(#pl)" stroke="#111" stroke-width="1.1"/>
<text x="290" y="467.6" font-size="11.6" xml:space="preserve">TCD BM + Naive CD8<tspan font-size="8" dy="-4.5">+</tspan><tspan dy="4.5"> T</tspan></text>
<rect x="272.5" y="460.5" width="10" height="9.5" fill="#7a7a7a" stroke="#111" stroke-width="1.1"/>
<text x="290.5" y="489.6" font-size="11.6" xml:space="preserve">TCD BM + Memory CD8<tspan font-size="8" dy="-4.5">+</tspan><tspan dy="4.5"> T</tspan></text>
<rect x="272.5" y="480.5" width="10" height="9.5" fill="url(#pc)" stroke="#111" stroke-width="1.1"/>
<text x="297" y="508.8" font-size="11.6" xml:space="preserve">TCD BM</text>
<rect x="272.5" y="498.8" width="10" height="9.5" fill="#000" stroke="#111" stroke-width="1.1"/>
</svg></body></html>
